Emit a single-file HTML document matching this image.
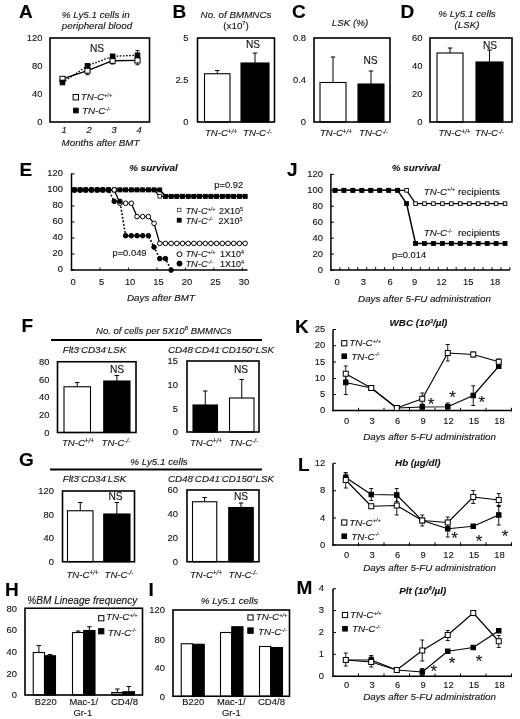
<!DOCTYPE html>
<html><head><meta charset="utf-8"><title>Figure</title>
<style>
html,body{margin:0;padding:0;background:#fff;}
svg{display:block;font-family:"Liberation Sans",Arial,sans-serif;}
</style></head><body>
<svg width="520" height="719" viewBox="0 0 520 719">
<rect x="0" y="0" width="520" height="719" fill="#fff"/>
<text x="19.00" y="17.50" font-size="19" text-anchor="start" font-weight="bold" fill="#000" stroke="#000" stroke-width="0.12">A</text>
<text x="95.70" y="18.00" font-size="9.8" text-anchor="middle" font-style="italic" fill="#111" stroke="#111" stroke-width="0.12">% Ly5.1 cells in</text>
<text x="97.00" y="28.50" font-size="9.8" text-anchor="middle" font-style="italic" fill="#111" stroke="#111" stroke-width="0.12">peripheral blood</text>
<text x="42.50" y="41.40" font-size="9.4" text-anchor="end" fill="#111" stroke="#111" stroke-width="0.12">120</text>
<text x="42.50" y="69.40" font-size="9.4" text-anchor="end" fill="#111" stroke="#111" stroke-width="0.12">80</text>
<text x="42.50" y="97.40" font-size="9.4" text-anchor="end" fill="#111" stroke="#111" stroke-width="0.12">40</text>
<text x="42.50" y="125.40" font-size="9.4" text-anchor="end" fill="#111" stroke="#111" stroke-width="0.12">0</text>
<rect x="50.00" y="38.00" width="99.50" height="84.00" fill="none" stroke="#000" stroke-width="1.6"/>
<line x1="87.50" y1="67.50" x2="87.50" y2="74.70" stroke="#000" stroke-width="0.9" stroke-linecap="butt"/>
<line x1="85.50" y1="67.50" x2="89.50" y2="67.50" stroke="#000" stroke-width="0.9" stroke-linecap="butt"/>
<line x1="85.50" y1="74.70" x2="89.50" y2="74.70" stroke="#000" stroke-width="0.9" stroke-linecap="butt"/>
<line x1="137.50" y1="56.00" x2="137.50" y2="64.80" stroke="#000" stroke-width="0.9" stroke-linecap="butt"/>
<line x1="135.50" y1="56.00" x2="139.50" y2="56.00" stroke="#000" stroke-width="0.9" stroke-linecap="butt"/>
<line x1="135.50" y1="64.80" x2="139.50" y2="64.80" stroke="#000" stroke-width="0.9" stroke-linecap="butt"/>
<line x1="137.50" y1="50.40" x2="137.50" y2="58.50" stroke="#000" stroke-width="0.9" stroke-linecap="butt"/>
<line x1="135.50" y1="50.40" x2="139.50" y2="50.40" stroke="#000" stroke-width="0.9" stroke-linecap="butt"/>
<line x1="135.50" y1="58.50" x2="139.50" y2="58.50" stroke="#000" stroke-width="0.9" stroke-linecap="butt"/>
<line x1="112.60" y1="58.50" x2="112.60" y2="64.00" stroke="#000" stroke-width="0.9" stroke-linecap="butt"/>
<line x1="110.60" y1="58.50" x2="114.60" y2="58.50" stroke="#000" stroke-width="0.9" stroke-linecap="butt"/>
<line x1="110.60" y1="64.00" x2="114.60" y2="64.00" stroke="#000" stroke-width="0.9" stroke-linecap="butt"/>
<polyline points="62.50,82.50 87.50,65.80 112.60,56.30 137.50,55.30" fill="none" stroke="#000" stroke-width="1.3" stroke-dasharray="1.6,1.6" stroke-linejoin="round"/>
<polyline points="62.50,78.90 87.50,70.60 112.60,60.70 137.50,60.40" fill="none" stroke="#000" stroke-width="1.4" stroke-linejoin="round"/>
<rect x="59.90" y="76.30" width="5.20" height="5.20" fill="#fff" stroke="#000" stroke-width="1.0"/>
<rect x="84.90" y="68.00" width="5.20" height="5.20" fill="#fff" stroke="#000" stroke-width="1.0"/>
<rect x="110.00" y="58.10" width="5.20" height="5.20" fill="#fff" stroke="#000" stroke-width="1.0"/>
<rect x="134.90" y="57.80" width="5.20" height="5.20" fill="#fff" stroke="#000" stroke-width="1.0"/>
<rect x="60.20" y="80.20" width="4.60" height="4.60" fill="#000" stroke="#000" stroke-width="1.0"/>
<rect x="85.20" y="63.50" width="4.60" height="4.60" fill="#000" stroke="#000" stroke-width="1.0"/>
<rect x="110.30" y="54.00" width="4.60" height="4.60" fill="#000" stroke="#000" stroke-width="1.0"/>
<rect x="135.20" y="53.00" width="4.60" height="4.60" fill="#000" stroke="#000" stroke-width="1.0"/>
<text x="97.00" y="51.80" font-size="10.2" text-anchor="middle" fill="#111" stroke="#111" stroke-width="0.12">NS</text>
<rect x="73.10" y="94.50" width="5.40" height="5.40" fill="#fff" stroke="#000" stroke-width="1.0"/>
<text x="80.70" y="100.20" font-size="9.8" text-anchor="start" font-style="italic" fill="#111" stroke="#111" stroke-width="0.12">TN-C<tspan dy="-3.4" font-size="5.6">+/+</tspan><tspan dy="3.4"></tspan></text>
<rect x="73.60" y="108.20" width="4.60" height="4.60" fill="#000" stroke="#000" stroke-width="1.0"/>
<text x="82.00" y="114.40" font-size="9.8" text-anchor="start" font-style="italic" fill="#111" stroke="#111" stroke-width="0.12">TN-C<tspan dy="-3.4" font-size="5.6">-/-</tspan><tspan dy="3.4"></tspan></text>
<text x="64.00" y="133.30" font-size="9.4" text-anchor="middle" font-style="italic" fill="#111" stroke="#111" stroke-width="0.12">1</text>
<text x="89.00" y="133.30" font-size="9.4" text-anchor="middle" font-style="italic" fill="#111" stroke="#111" stroke-width="0.12">2</text>
<text x="114.10" y="133.30" font-size="9.4" text-anchor="middle" font-style="italic" fill="#111" stroke="#111" stroke-width="0.12">3</text>
<text x="139.00" y="133.30" font-size="9.4" text-anchor="middle" font-style="italic" fill="#111" stroke="#111" stroke-width="0.12">4</text>
<text x="100.50" y="146.00" font-size="9.8" text-anchor="middle" font-style="italic" fill="#111" stroke="#111" stroke-width="0.12">Months after BMT</text>
<text x="172.50" y="17.50" font-size="19" text-anchor="start" font-weight="bold" fill="#000" stroke="#000" stroke-width="0.12">B</text>
<text x="236.00" y="18.00" font-size="9.8" text-anchor="middle" font-style="italic" fill="#111" stroke="#111" stroke-width="0.12">No. of BMMNCs</text>
<text x="236.00" y="28.50" font-size="9.8" text-anchor="middle" fill="#111" stroke="#111" stroke-width="0.12">(x10<tspan dy="-3.4" font-size="5.6">7</tspan><tspan dy="3.4">)</tspan></text>
<text x="188.50" y="41.40" font-size="9.4" text-anchor="end" fill="#111" stroke="#111" stroke-width="0.12">5</text>
<text x="188.50" y="83.40" font-size="9.4" text-anchor="end" fill="#111" stroke="#111" stroke-width="0.12">2.5</text>
<text x="188.50" y="125.40" font-size="9.4" text-anchor="end" fill="#111" stroke="#111" stroke-width="0.12">0</text>
<line x1="217.25" y1="70.50" x2="217.25" y2="73.75" stroke="#000" stroke-width="1.0" stroke-linecap="butt"/>
<line x1="215.00" y1="70.50" x2="219.50" y2="70.50" stroke="#000" stroke-width="1.0" stroke-linecap="butt"/>
<rect x="204.50" y="73.75" width="25.50" height="48.25" fill="#fff" stroke="#000" stroke-width="1.1"/>
<line x1="255.00" y1="53.00" x2="255.00" y2="63.00" stroke="#000" stroke-width="1.0" stroke-linecap="butt"/>
<line x1="252.75" y1="53.00" x2="257.25" y2="53.00" stroke="#000" stroke-width="1.0" stroke-linecap="butt"/>
<rect x="241.00" y="63.00" width="28.00" height="59.00" fill="#000" stroke="#000" stroke-width="1.1"/>
<rect x="197.50" y="38.00" width="77.00" height="84.00" fill="none" stroke="#000" stroke-width="1.6"/>
<text x="253.00" y="47.50" font-size="10.2" text-anchor="middle" fill="#111" stroke="#111" stroke-width="0.12">NS</text>
<text x="221.00" y="136.20" font-size="9.6" text-anchor="middle" font-style="italic" fill="#111" stroke="#111" stroke-width="0.12">TN-C<tspan dy="-2.6" font-size="6.4">+/+</tspan><tspan dy="2.6"></tspan></text>
<text x="257.50" y="136.20" font-size="9.6" text-anchor="middle" font-style="italic" fill="#111" stroke="#111" stroke-width="0.12">TN-C<tspan dy="-2.6" font-size="6.4">-/-</tspan><tspan dy="2.6"></tspan></text>
<text x="292.00" y="17.50" font-size="19" text-anchor="start" font-weight="bold" fill="#000" stroke="#000" stroke-width="0.12">C</text>
<text x="350.00" y="25.50" font-size="9.8" text-anchor="middle" font-style="italic" fill="#111" stroke="#111" stroke-width="0.12">LSK (%)</text>
<text x="306.00" y="41.40" font-size="9.4" text-anchor="end" fill="#111" stroke="#111" stroke-width="0.12">0.8</text>
<text x="306.00" y="83.40" font-size="9.4" text-anchor="end" fill="#111" stroke="#111" stroke-width="0.12">0.4</text>
<text x="306.00" y="125.40" font-size="9.4" text-anchor="end" fill="#111" stroke="#111" stroke-width="0.12">0</text>
<line x1="333.00" y1="57.00" x2="333.00" y2="82.50" stroke="#000" stroke-width="1.0" stroke-linecap="butt"/>
<line x1="330.75" y1="57.00" x2="335.25" y2="57.00" stroke="#000" stroke-width="1.0" stroke-linecap="butt"/>
<rect x="320.00" y="82.50" width="26.00" height="39.50" fill="#fff" stroke="#000" stroke-width="1.1"/>
<line x1="371.00" y1="71.00" x2="371.00" y2="84.00" stroke="#000" stroke-width="1.0" stroke-linecap="butt"/>
<line x1="368.75" y1="71.00" x2="373.25" y2="71.00" stroke="#000" stroke-width="1.0" stroke-linecap="butt"/>
<rect x="358.00" y="84.00" width="26.00" height="38.00" fill="#000" stroke="#000" stroke-width="1.1"/>
<rect x="314.00" y="38.00" width="76.00" height="84.00" fill="none" stroke="#000" stroke-width="1.6"/>
<text x="370.50" y="63.50" font-size="10.2" text-anchor="middle" fill="#111" stroke="#111" stroke-width="0.12">NS</text>
<text x="336.00" y="136.20" font-size="9.6" text-anchor="middle" font-style="italic" fill="#111" stroke="#111" stroke-width="0.12">TN-C<tspan dy="-2.6" font-size="6.4">+/+</tspan><tspan dy="2.6"></tspan></text>
<text x="373.50" y="136.20" font-size="9.6" text-anchor="middle" font-style="italic" fill="#111" stroke="#111" stroke-width="0.12">TN-C<tspan dy="-2.6" font-size="6.4">-/-</tspan><tspan dy="2.6"></tspan></text>
<text x="400.50" y="17.50" font-size="19" text-anchor="start" font-weight="bold" fill="#000" stroke="#000" stroke-width="0.12">D</text>
<text x="467.00" y="17.00" font-size="9.8" text-anchor="middle" font-style="italic" fill="#111" stroke="#111" stroke-width="0.12">% Ly5.1 cells</text>
<text x="467.00" y="27.50" font-size="9.8" text-anchor="middle" font-style="italic" fill="#111" stroke="#111" stroke-width="0.12">(LSK)</text>
<text x="422.50" y="41.40" font-size="9.4" text-anchor="end" fill="#111" stroke="#111" stroke-width="0.12">60</text>
<text x="422.50" y="69.40" font-size="9.4" text-anchor="end" fill="#111" stroke="#111" stroke-width="0.12">40</text>
<text x="422.50" y="97.40" font-size="9.4" text-anchor="end" fill="#111" stroke="#111" stroke-width="0.12">20</text>
<text x="422.50" y="125.40" font-size="9.4" text-anchor="end" fill="#111" stroke="#111" stroke-width="0.12">0</text>
<line x1="450.00" y1="48.00" x2="450.00" y2="53.00" stroke="#000" stroke-width="1.0" stroke-linecap="butt"/>
<line x1="447.75" y1="48.00" x2="452.25" y2="48.00" stroke="#000" stroke-width="1.0" stroke-linecap="butt"/>
<rect x="437.00" y="53.00" width="26.00" height="69.00" fill="#fff" stroke="#000" stroke-width="1.1"/>
<line x1="489.50" y1="50.00" x2="489.50" y2="62.00" stroke="#000" stroke-width="1.0" stroke-linecap="butt"/>
<line x1="487.25" y1="50.00" x2="491.75" y2="50.00" stroke="#000" stroke-width="1.0" stroke-linecap="butt"/>
<rect x="476.00" y="62.00" width="27.00" height="60.00" fill="#000" stroke="#000" stroke-width="1.1"/>
<rect x="430.00" y="38.00" width="82.00" height="84.00" fill="none" stroke="#000" stroke-width="1.6"/>
<text x="490.00" y="48.50" font-size="10.2" text-anchor="middle" fill="#111" stroke="#111" stroke-width="0.12">NS</text>
<text x="454.50" y="136.20" font-size="9.6" text-anchor="middle" font-style="italic" fill="#111" stroke="#111" stroke-width="0.12">TN-C<tspan dy="-2.6" font-size="6.4">+/+</tspan><tspan dy="2.6"></tspan></text>
<text x="489.50" y="136.20" font-size="9.6" text-anchor="middle" font-style="italic" fill="#111" stroke="#111" stroke-width="0.12">TN-C<tspan dy="-2.6" font-size="6.4">-/-</tspan><tspan dy="2.6"></tspan></text>
<text x="19.50" y="175.50" font-size="19" text-anchor="start" font-weight="bold" fill="#000" stroke="#000" stroke-width="0.12">E</text>
<text x="153.50" y="171.00" font-size="9.8" text-anchor="middle" font-style="italic" font-weight="bold" fill="#111" stroke="#111" stroke-width="0.12">% survival</text>
<text x="63.00" y="272.30" font-size="9.4" text-anchor="end" fill="#111" stroke="#111" stroke-width="0.12">0</text>
<text x="63.00" y="256.26" font-size="9.4" text-anchor="end" fill="#111" stroke="#111" stroke-width="0.12">20</text>
<text x="63.00" y="240.22" font-size="9.4" text-anchor="end" fill="#111" stroke="#111" stroke-width="0.12">40</text>
<text x="63.00" y="224.18" font-size="9.4" text-anchor="end" fill="#111" stroke="#111" stroke-width="0.12">60</text>
<text x="63.00" y="208.14" font-size="9.4" text-anchor="end" fill="#111" stroke="#111" stroke-width="0.12">80</text>
<text x="63.00" y="192.10" font-size="9.4" text-anchor="end" fill="#111" stroke="#111" stroke-width="0.12">100</text>
<text x="63.00" y="176.06" font-size="9.4" text-anchor="end" fill="#111" stroke="#111" stroke-width="0.12">120</text>
<line x1="71.50" y1="173.30" x2="71.50" y2="270.85" stroke="#000" stroke-width="1.5" stroke-linecap="butt"/>
<line x1="70.75" y1="270.10" x2="247.50" y2="270.10" stroke="#000" stroke-width="1.5" stroke-linecap="butt"/>
<line x1="71.50" y1="270.10" x2="74.50" y2="270.10" stroke="#000" stroke-width="1.0" stroke-linecap="butt"/>
<line x1="71.50" y1="254.06" x2="74.50" y2="254.06" stroke="#000" stroke-width="1.0" stroke-linecap="butt"/>
<line x1="71.50" y1="238.02" x2="74.50" y2="238.02" stroke="#000" stroke-width="1.0" stroke-linecap="butt"/>
<line x1="71.50" y1="221.98" x2="74.50" y2="221.98" stroke="#000" stroke-width="1.0" stroke-linecap="butt"/>
<line x1="71.50" y1="205.94" x2="74.50" y2="205.94" stroke="#000" stroke-width="1.0" stroke-linecap="butt"/>
<line x1="71.50" y1="189.90" x2="74.50" y2="189.90" stroke="#000" stroke-width="1.0" stroke-linecap="butt"/>
<line x1="71.50" y1="173.86" x2="74.50" y2="173.86" stroke="#000" stroke-width="1.0" stroke-linecap="butt"/>
<text x="73.20" y="285.00" font-size="9.4" text-anchor="middle" fill="#111" stroke="#111" stroke-width="0.12">0</text>
<text x="101.65" y="285.00" font-size="9.4" text-anchor="middle" fill="#111" stroke="#111" stroke-width="0.12">5</text>
<text x="130.10" y="285.00" font-size="9.4" text-anchor="middle" fill="#111" stroke="#111" stroke-width="0.12">10</text>
<text x="158.55" y="285.00" font-size="9.4" text-anchor="middle" fill="#111" stroke="#111" stroke-width="0.12">15</text>
<text x="187.00" y="285.00" font-size="9.4" text-anchor="middle" fill="#111" stroke="#111" stroke-width="0.12">20</text>
<text x="215.45" y="285.00" font-size="9.4" text-anchor="middle" fill="#111" stroke="#111" stroke-width="0.12">25</text>
<text x="243.90" y="285.00" font-size="9.4" text-anchor="middle" fill="#111" stroke="#111" stroke-width="0.12">30</text>
<line x1="100.05" y1="267.60" x2="100.05" y2="270.10" stroke="#000" stroke-width="0.9" stroke-linecap="butt"/>
<line x1="128.50" y1="267.60" x2="128.50" y2="270.10" stroke="#000" stroke-width="0.9" stroke-linecap="butt"/>
<line x1="156.95" y1="267.60" x2="156.95" y2="270.10" stroke="#000" stroke-width="0.9" stroke-linecap="butt"/>
<line x1="185.40" y1="267.60" x2="185.40" y2="270.10" stroke="#000" stroke-width="0.9" stroke-linecap="butt"/>
<line x1="213.85" y1="267.60" x2="213.85" y2="270.10" stroke="#000" stroke-width="0.9" stroke-linecap="butt"/>
<line x1="242.30" y1="267.60" x2="242.30" y2="270.10" stroke="#000" stroke-width="0.9" stroke-linecap="butt"/>
<text x="161.00" y="301.00" font-size="9.8" text-anchor="middle" font-style="italic" fill="#111" stroke="#111" stroke-width="0.12">Days after BMT</text>
<polyline points="74.40,189.90 80.09,189.90 85.78,189.90 91.47,189.90 97.16,189.90 102.85,189.90 108.54,189.90 114.23,189.90 119.92,189.90 125.61,189.90 131.30,189.90 136.99,189.90 142.68,189.90 148.37,189.90 154.06,189.90 159.75,196.32 165.44,196.32 171.13,196.32 176.82,196.32 182.51,196.32 188.20,196.32 193.89,196.32 199.58,196.32 205.27,196.32 210.96,196.32 216.65,196.32 222.34,196.32 228.03,196.32 233.72,196.32 239.41,196.32 245.10,196.32" fill="none" stroke="#000" stroke-width="1.2" stroke-linejoin="round"/>
<rect x="72.60" y="188.10" width="3.60" height="3.60" fill="#fff" stroke="#000" stroke-width="0.8"/>
<rect x="78.29" y="188.10" width="3.60" height="3.60" fill="#fff" stroke="#000" stroke-width="0.8"/>
<rect x="83.98" y="188.10" width="3.60" height="3.60" fill="#fff" stroke="#000" stroke-width="0.8"/>
<rect x="89.67" y="188.10" width="3.60" height="3.60" fill="#fff" stroke="#000" stroke-width="0.8"/>
<rect x="95.36" y="188.10" width="3.60" height="3.60" fill="#fff" stroke="#000" stroke-width="0.8"/>
<rect x="101.05" y="188.10" width="3.60" height="3.60" fill="#fff" stroke="#000" stroke-width="0.8"/>
<rect x="106.74" y="188.10" width="3.60" height="3.60" fill="#fff" stroke="#000" stroke-width="0.8"/>
<rect x="112.43" y="188.10" width="3.60" height="3.60" fill="#fff" stroke="#000" stroke-width="0.8"/>
<rect x="118.12" y="188.10" width="3.60" height="3.60" fill="#fff" stroke="#000" stroke-width="0.8"/>
<rect x="123.81" y="188.10" width="3.60" height="3.60" fill="#fff" stroke="#000" stroke-width="0.8"/>
<rect x="129.50" y="188.10" width="3.60" height="3.60" fill="#fff" stroke="#000" stroke-width="0.8"/>
<rect x="135.19" y="188.10" width="3.60" height="3.60" fill="#fff" stroke="#000" stroke-width="0.8"/>
<rect x="140.88" y="188.10" width="3.60" height="3.60" fill="#fff" stroke="#000" stroke-width="0.8"/>
<rect x="146.57" y="188.10" width="3.60" height="3.60" fill="#fff" stroke="#000" stroke-width="0.8"/>
<rect x="152.26" y="188.10" width="3.60" height="3.60" fill="#fff" stroke="#000" stroke-width="0.8"/>
<rect x="157.95" y="194.52" width="3.60" height="3.60" fill="#fff" stroke="#000" stroke-width="0.8"/>
<rect x="163.64" y="194.52" width="3.60" height="3.60" fill="#fff" stroke="#000" stroke-width="0.8"/>
<rect x="169.33" y="194.52" width="3.60" height="3.60" fill="#fff" stroke="#000" stroke-width="0.8"/>
<rect x="175.02" y="194.52" width="3.60" height="3.60" fill="#fff" stroke="#000" stroke-width="0.8"/>
<rect x="180.71" y="194.52" width="3.60" height="3.60" fill="#fff" stroke="#000" stroke-width="0.8"/>
<rect x="186.40" y="194.52" width="3.60" height="3.60" fill="#fff" stroke="#000" stroke-width="0.8"/>
<rect x="192.09" y="194.52" width="3.60" height="3.60" fill="#fff" stroke="#000" stroke-width="0.8"/>
<rect x="197.78" y="194.52" width="3.60" height="3.60" fill="#fff" stroke="#000" stroke-width="0.8"/>
<rect x="203.47" y="194.52" width="3.60" height="3.60" fill="#fff" stroke="#000" stroke-width="0.8"/>
<rect x="209.16" y="194.52" width="3.60" height="3.60" fill="#fff" stroke="#000" stroke-width="0.8"/>
<rect x="214.85" y="194.52" width="3.60" height="3.60" fill="#fff" stroke="#000" stroke-width="0.8"/>
<rect x="220.54" y="194.52" width="3.60" height="3.60" fill="#fff" stroke="#000" stroke-width="0.8"/>
<rect x="226.23" y="194.52" width="3.60" height="3.60" fill="#fff" stroke="#000" stroke-width="0.8"/>
<rect x="231.92" y="194.52" width="3.60" height="3.60" fill="#fff" stroke="#000" stroke-width="0.8"/>
<rect x="237.61" y="194.52" width="3.60" height="3.60" fill="#fff" stroke="#000" stroke-width="0.8"/>
<rect x="243.30" y="194.52" width="3.60" height="3.60" fill="#fff" stroke="#000" stroke-width="0.8"/>
<polyline points="74.40,189.90 80.09,189.90 85.78,189.90 91.47,189.90 97.16,189.90 102.85,189.90 108.54,189.90 114.23,189.90 119.92,189.90 125.61,189.90 131.30,189.90 136.99,189.90 142.68,189.90 148.37,189.90 154.06,189.90 159.75,189.90 165.44,196.32 171.13,196.32 176.82,196.32 182.51,196.32 188.20,196.32 193.89,196.32 199.58,196.32 205.27,196.32 210.96,196.32 216.65,196.32 222.34,196.32 228.03,196.32 233.72,196.32 239.41,196.32 245.10,196.32" fill="none" stroke="#000" stroke-width="1.6" stroke-linejoin="round"/>
<rect x="72.40" y="187.90" width="4.00" height="4.00" fill="#000" stroke="#000" stroke-width="0.8"/>
<rect x="78.09" y="187.90" width="4.00" height="4.00" fill="#000" stroke="#000" stroke-width="0.8"/>
<rect x="83.78" y="187.90" width="4.00" height="4.00" fill="#000" stroke="#000" stroke-width="0.8"/>
<rect x="89.47" y="187.90" width="4.00" height="4.00" fill="#000" stroke="#000" stroke-width="0.8"/>
<rect x="95.16" y="187.90" width="4.00" height="4.00" fill="#000" stroke="#000" stroke-width="0.8"/>
<rect x="100.85" y="187.90" width="4.00" height="4.00" fill="#000" stroke="#000" stroke-width="0.8"/>
<rect x="106.54" y="187.90" width="4.00" height="4.00" fill="#000" stroke="#000" stroke-width="0.8"/>
<rect x="112.23" y="187.90" width="4.00" height="4.00" fill="#000" stroke="#000" stroke-width="0.8"/>
<rect x="117.92" y="187.90" width="4.00" height="4.00" fill="#000" stroke="#000" stroke-width="0.8"/>
<rect x="123.61" y="187.90" width="4.00" height="4.00" fill="#000" stroke="#000" stroke-width="0.8"/>
<rect x="129.30" y="187.90" width="4.00" height="4.00" fill="#000" stroke="#000" stroke-width="0.8"/>
<rect x="134.99" y="187.90" width="4.00" height="4.00" fill="#000" stroke="#000" stroke-width="0.8"/>
<rect x="140.68" y="187.90" width="4.00" height="4.00" fill="#000" stroke="#000" stroke-width="0.8"/>
<rect x="146.37" y="187.90" width="4.00" height="4.00" fill="#000" stroke="#000" stroke-width="0.8"/>
<rect x="152.06" y="187.90" width="4.00" height="4.00" fill="#000" stroke="#000" stroke-width="0.8"/>
<rect x="157.75" y="187.90" width="4.00" height="4.00" fill="#000" stroke="#000" stroke-width="0.8"/>
<rect x="163.44" y="194.32" width="4.00" height="4.00" fill="#000" stroke="#000" stroke-width="0.8"/>
<rect x="169.13" y="194.32" width="4.00" height="4.00" fill="#000" stroke="#000" stroke-width="0.8"/>
<rect x="174.82" y="194.32" width="4.00" height="4.00" fill="#000" stroke="#000" stroke-width="0.8"/>
<rect x="180.51" y="194.32" width="4.00" height="4.00" fill="#000" stroke="#000" stroke-width="0.8"/>
<rect x="186.20" y="194.32" width="4.00" height="4.00" fill="#000" stroke="#000" stroke-width="0.8"/>
<rect x="191.89" y="194.32" width="4.00" height="4.00" fill="#000" stroke="#000" stroke-width="0.8"/>
<rect x="197.58" y="194.32" width="4.00" height="4.00" fill="#000" stroke="#000" stroke-width="0.8"/>
<rect x="203.27" y="194.32" width="4.00" height="4.00" fill="#000" stroke="#000" stroke-width="0.8"/>
<rect x="208.96" y="194.32" width="4.00" height="4.00" fill="#000" stroke="#000" stroke-width="0.8"/>
<rect x="214.65" y="194.32" width="4.00" height="4.00" fill="#000" stroke="#000" stroke-width="0.8"/>
<rect x="220.34" y="194.32" width="4.00" height="4.00" fill="#000" stroke="#000" stroke-width="0.8"/>
<rect x="226.03" y="194.32" width="4.00" height="4.00" fill="#000" stroke="#000" stroke-width="0.8"/>
<rect x="231.72" y="194.32" width="4.00" height="4.00" fill="#000" stroke="#000" stroke-width="0.8"/>
<rect x="237.41" y="194.32" width="4.00" height="4.00" fill="#000" stroke="#000" stroke-width="0.8"/>
<rect x="243.10" y="194.32" width="4.00" height="4.00" fill="#000" stroke="#000" stroke-width="0.8"/>
<polyline points="74.40,189.90 80.09,189.90 85.78,189.90 91.47,189.90 97.16,189.90 102.85,189.90 108.54,189.90 114.23,189.90 119.92,203.29 125.61,203.29 131.30,203.29 136.99,216.61 142.68,216.61 148.37,216.61 154.06,223.34 159.75,243.39 165.44,243.39 171.13,243.39 176.82,243.39 182.51,243.39 188.20,243.39 193.89,243.39 199.58,243.39 205.27,243.39 210.96,243.39 216.65,243.39 222.34,243.39 228.03,243.39 233.72,243.39 239.41,243.39 245.10,243.39" fill="none" stroke="#000" stroke-width="1.3" stroke-linejoin="round"/>
<polyline points="74.40,189.90 80.09,189.90 85.78,189.90 91.47,189.90 97.16,189.90 102.85,189.90 108.54,189.90 114.23,201.37 119.92,201.37 125.61,235.69 131.30,235.69 136.99,235.69 142.68,235.69 148.37,235.69 154.06,247.16 159.75,258.63 165.44,258.63 171.13,270.10" fill="none" stroke="#000" stroke-width="1.6" stroke-dasharray="1.8,1.8" stroke-linejoin="round"/>
<circle cx="74.40" cy="189.90" r="2.3" fill="#fff" stroke="#000" stroke-width="1.0"/>
<circle cx="80.09" cy="189.90" r="2.3" fill="#fff" stroke="#000" stroke-width="1.0"/>
<circle cx="85.78" cy="189.90" r="2.3" fill="#fff" stroke="#000" stroke-width="1.0"/>
<circle cx="91.47" cy="189.90" r="2.3" fill="#fff" stroke="#000" stroke-width="1.0"/>
<circle cx="97.16" cy="189.90" r="2.3" fill="#fff" stroke="#000" stroke-width="1.0"/>
<circle cx="102.85" cy="189.90" r="2.3" fill="#fff" stroke="#000" stroke-width="1.0"/>
<circle cx="108.54" cy="189.90" r="2.3" fill="#fff" stroke="#000" stroke-width="1.0"/>
<circle cx="114.23" cy="189.90" r="2.3" fill="#fff" stroke="#000" stroke-width="1.0"/>
<circle cx="119.92" cy="203.29" r="2.3" fill="#fff" stroke="#000" stroke-width="1.0"/>
<circle cx="125.61" cy="203.29" r="2.3" fill="#fff" stroke="#000" stroke-width="1.0"/>
<circle cx="131.30" cy="203.29" r="2.3" fill="#fff" stroke="#000" stroke-width="1.0"/>
<circle cx="136.99" cy="216.61" r="2.3" fill="#fff" stroke="#000" stroke-width="1.0"/>
<circle cx="142.68" cy="216.61" r="2.3" fill="#fff" stroke="#000" stroke-width="1.0"/>
<circle cx="148.37" cy="216.61" r="2.3" fill="#fff" stroke="#000" stroke-width="1.0"/>
<circle cx="154.06" cy="223.34" r="2.3" fill="#fff" stroke="#000" stroke-width="1.0"/>
<circle cx="159.75" cy="243.39" r="2.3" fill="#fff" stroke="#000" stroke-width="1.0"/>
<circle cx="165.44" cy="243.39" r="2.3" fill="#fff" stroke="#000" stroke-width="1.0"/>
<circle cx="171.13" cy="243.39" r="2.3" fill="#fff" stroke="#000" stroke-width="1.0"/>
<circle cx="176.82" cy="243.39" r="2.3" fill="#fff" stroke="#000" stroke-width="1.0"/>
<circle cx="182.51" cy="243.39" r="2.3" fill="#fff" stroke="#000" stroke-width="1.0"/>
<circle cx="188.20" cy="243.39" r="2.3" fill="#fff" stroke="#000" stroke-width="1.0"/>
<circle cx="193.89" cy="243.39" r="2.3" fill="#fff" stroke="#000" stroke-width="1.0"/>
<circle cx="199.58" cy="243.39" r="2.3" fill="#fff" stroke="#000" stroke-width="1.0"/>
<circle cx="205.27" cy="243.39" r="2.3" fill="#fff" stroke="#000" stroke-width="1.0"/>
<circle cx="210.96" cy="243.39" r="2.3" fill="#fff" stroke="#000" stroke-width="1.0"/>
<circle cx="216.65" cy="243.39" r="2.3" fill="#fff" stroke="#000" stroke-width="1.0"/>
<circle cx="222.34" cy="243.39" r="2.3" fill="#fff" stroke="#000" stroke-width="1.0"/>
<circle cx="228.03" cy="243.39" r="2.3" fill="#fff" stroke="#000" stroke-width="1.0"/>
<circle cx="233.72" cy="243.39" r="2.3" fill="#fff" stroke="#000" stroke-width="1.0"/>
<circle cx="239.41" cy="243.39" r="2.3" fill="#fff" stroke="#000" stroke-width="1.0"/>
<circle cx="245.10" cy="243.39" r="2.3" fill="#fff" stroke="#000" stroke-width="1.0"/>
<circle cx="74.40" cy="189.90" r="2.3" fill="#000" stroke="#000" stroke-width="1.0"/>
<circle cx="80.09" cy="189.90" r="2.3" fill="#000" stroke="#000" stroke-width="1.0"/>
<circle cx="85.78" cy="189.90" r="2.3" fill="#000" stroke="#000" stroke-width="1.0"/>
<circle cx="91.47" cy="189.90" r="2.3" fill="#000" stroke="#000" stroke-width="1.0"/>
<circle cx="97.16" cy="189.90" r="2.3" fill="#000" stroke="#000" stroke-width="1.0"/>
<circle cx="102.85" cy="189.90" r="2.3" fill="#000" stroke="#000" stroke-width="1.0"/>
<circle cx="108.54" cy="189.90" r="2.3" fill="#000" stroke="#000" stroke-width="1.0"/>
<circle cx="114.23" cy="201.37" r="2.3" fill="#000" stroke="#000" stroke-width="1.0"/>
<circle cx="119.92" cy="201.37" r="2.3" fill="#000" stroke="#000" stroke-width="1.0"/>
<circle cx="125.61" cy="235.69" r="2.3" fill="#000" stroke="#000" stroke-width="1.0"/>
<circle cx="131.30" cy="235.69" r="2.3" fill="#000" stroke="#000" stroke-width="1.0"/>
<circle cx="136.99" cy="235.69" r="2.3" fill="#000" stroke="#000" stroke-width="1.0"/>
<circle cx="142.68" cy="235.69" r="2.3" fill="#000" stroke="#000" stroke-width="1.0"/>
<circle cx="148.37" cy="235.69" r="2.3" fill="#000" stroke="#000" stroke-width="1.0"/>
<circle cx="154.06" cy="247.16" r="2.3" fill="#000" stroke="#000" stroke-width="1.0"/>
<circle cx="159.75" cy="258.63" r="2.3" fill="#000" stroke="#000" stroke-width="1.0"/>
<circle cx="165.44" cy="258.63" r="2.3" fill="#000" stroke="#000" stroke-width="1.0"/>
<circle cx="171.13" cy="270.10" r="2.3" fill="#000" stroke="#000" stroke-width="1.0"/>
<text x="228.80" y="187.50" font-size="9.4" text-anchor="middle" fill="#111" stroke="#111" stroke-width="0.12">p=0.92</text>
<text x="129.50" y="255.50" font-size="9.4" text-anchor="middle" fill="#111" stroke="#111" stroke-width="0.12">p=0.049</text>
<rect x="177.40" y="208.20" width="3.60" height="3.60" fill="#fff" stroke="#000" stroke-width="0.6"/>
<text x="185.40" y="213.60" font-size="9.3" text-anchor="start" font-style="italic" fill="#111" stroke="#111" stroke-width="0.12">TN-C<tspan dy="-2.9" font-size="5.4">+/+</tspan><tspan dy="2.9"></tspan></text>
<text x="219.00" y="213.60" font-size="9.0" text-anchor="start" fill="#111" stroke="#111" stroke-width="0.12">2X10<tspan dy="-2.9" font-size="5.4">5</tspan><tspan dy="2.9"></tspan></text>
<rect x="177.30" y="218.30" width="3.80" height="3.80" fill="#000" stroke="#000" stroke-width="1.0"/>
<text x="185.40" y="224.20" font-size="9.3" text-anchor="start" font-style="italic" fill="#111" stroke="#111" stroke-width="0.12">TN-C<tspan dy="-2.9" font-size="5.4">-/-</tspan><tspan dy="2.9"></tspan></text>
<text x="218.50" y="224.20" font-size="9.0" text-anchor="start" fill="#111" stroke="#111" stroke-width="0.12">2X10<tspan dy="-2.9" font-size="5.4">5</tspan><tspan dy="2.9"></tspan></text>
<circle cx="179.50" cy="254.20" r="2.5" fill="#fff" stroke="#000" stroke-width="1.0"/>
<text x="185.40" y="257.00" font-size="9.3" text-anchor="start" font-style="italic" fill="#111" stroke="#111" stroke-width="0.12">TN-C<tspan dy="-2.9" font-size="5.4">+/+</tspan><tspan dy="2.9"></tspan></text>
<text x="220.00" y="257.00" font-size="9.0" text-anchor="start" fill="#111" stroke="#111" stroke-width="0.12">1X10<tspan dy="-2.9" font-size="5.4">4</tspan><tspan dy="2.9"></tspan></text>
<circle cx="179.50" cy="263.60" r="2.5" fill="#000" stroke="#000" stroke-width="1.0"/>
<text x="185.40" y="267.00" font-size="9.3" text-anchor="start" font-style="italic" fill="#111" stroke="#111" stroke-width="0.12">TN-C<tspan dy="-2.9" font-size="5.4">-/-</tspan><tspan dy="2.9"></tspan></text>
<text x="220.00" y="267.00" font-size="9.0" text-anchor="start" fill="#111" stroke="#111" stroke-width="0.12">1X10<tspan dy="-2.9" font-size="5.4">4</tspan><tspan dy="2.9"></tspan></text>
<text x="287.00" y="175.50" font-size="19" text-anchor="start" font-weight="bold" fill="#000" stroke="#000" stroke-width="0.12">J</text>
<text x="416.00" y="171.00" font-size="9.8" text-anchor="middle" font-style="italic" font-weight="bold" fill="#111" stroke="#111" stroke-width="0.12">% survival</text>
<text x="323.00" y="272.50" font-size="9.4" text-anchor="end" fill="#111" stroke="#111" stroke-width="0.12">0</text>
<text x="323.00" y="256.56" font-size="9.4" text-anchor="end" fill="#111" stroke="#111" stroke-width="0.12">20</text>
<text x="323.00" y="240.62" font-size="9.4" text-anchor="end" fill="#111" stroke="#111" stroke-width="0.12">40</text>
<text x="323.00" y="224.68" font-size="9.4" text-anchor="end" fill="#111" stroke="#111" stroke-width="0.12">60</text>
<text x="323.00" y="208.74" font-size="9.4" text-anchor="end" fill="#111" stroke="#111" stroke-width="0.12">80</text>
<text x="323.00" y="192.80" font-size="9.4" text-anchor="end" fill="#111" stroke="#111" stroke-width="0.12">100</text>
<text x="323.00" y="176.86" font-size="9.4" text-anchor="end" fill="#111" stroke="#111" stroke-width="0.12">120</text>
<line x1="330.90" y1="173.70" x2="330.90" y2="270.75" stroke="#000" stroke-width="1.5" stroke-linecap="butt"/>
<line x1="330.15" y1="270.00" x2="510.00" y2="270.00" stroke="#000" stroke-width="1.5" stroke-linecap="butt"/>
<line x1="330.90" y1="270.00" x2="333.90" y2="270.00" stroke="#000" stroke-width="1.0" stroke-linecap="butt"/>
<line x1="330.90" y1="254.06" x2="333.90" y2="254.06" stroke="#000" stroke-width="1.0" stroke-linecap="butt"/>
<line x1="330.90" y1="238.12" x2="333.90" y2="238.12" stroke="#000" stroke-width="1.0" stroke-linecap="butt"/>
<line x1="330.90" y1="222.18" x2="333.90" y2="222.18" stroke="#000" stroke-width="1.0" stroke-linecap="butt"/>
<line x1="330.90" y1="206.24" x2="333.90" y2="206.24" stroke="#000" stroke-width="1.0" stroke-linecap="butt"/>
<line x1="330.90" y1="190.30" x2="333.90" y2="190.30" stroke="#000" stroke-width="1.0" stroke-linecap="butt"/>
<line x1="330.90" y1="174.36" x2="333.90" y2="174.36" stroke="#000" stroke-width="1.0" stroke-linecap="butt"/>
<line x1="339.85" y1="267.20" x2="339.85" y2="270.00" stroke="#000" stroke-width="1.0" stroke-linecap="butt"/>
<line x1="348.80" y1="267.20" x2="348.80" y2="270.00" stroke="#000" stroke-width="1.0" stroke-linecap="butt"/>
<line x1="357.75" y1="267.20" x2="357.75" y2="270.00" stroke="#000" stroke-width="1.0" stroke-linecap="butt"/>
<line x1="366.70" y1="267.20" x2="366.70" y2="270.00" stroke="#000" stroke-width="1.0" stroke-linecap="butt"/>
<line x1="375.65" y1="267.20" x2="375.65" y2="270.00" stroke="#000" stroke-width="1.0" stroke-linecap="butt"/>
<line x1="384.60" y1="267.20" x2="384.60" y2="270.00" stroke="#000" stroke-width="1.0" stroke-linecap="butt"/>
<line x1="393.55" y1="267.20" x2="393.55" y2="270.00" stroke="#000" stroke-width="1.0" stroke-linecap="butt"/>
<line x1="402.50" y1="267.20" x2="402.50" y2="270.00" stroke="#000" stroke-width="1.0" stroke-linecap="butt"/>
<line x1="411.45" y1="267.20" x2="411.45" y2="270.00" stroke="#000" stroke-width="1.0" stroke-linecap="butt"/>
<line x1="420.40" y1="267.20" x2="420.40" y2="270.00" stroke="#000" stroke-width="1.0" stroke-linecap="butt"/>
<line x1="429.35" y1="267.20" x2="429.35" y2="270.00" stroke="#000" stroke-width="1.0" stroke-linecap="butt"/>
<line x1="438.30" y1="267.20" x2="438.30" y2="270.00" stroke="#000" stroke-width="1.0" stroke-linecap="butt"/>
<line x1="447.25" y1="267.20" x2="447.25" y2="270.00" stroke="#000" stroke-width="1.0" stroke-linecap="butt"/>
<line x1="456.20" y1="267.20" x2="456.20" y2="270.00" stroke="#000" stroke-width="1.0" stroke-linecap="butt"/>
<line x1="465.15" y1="267.20" x2="465.15" y2="270.00" stroke="#000" stroke-width="1.0" stroke-linecap="butt"/>
<line x1="474.10" y1="267.20" x2="474.10" y2="270.00" stroke="#000" stroke-width="1.0" stroke-linecap="butt"/>
<line x1="483.05" y1="267.20" x2="483.05" y2="270.00" stroke="#000" stroke-width="1.0" stroke-linecap="butt"/>
<line x1="492.00" y1="267.20" x2="492.00" y2="270.00" stroke="#000" stroke-width="1.0" stroke-linecap="butt"/>
<line x1="500.95" y1="267.20" x2="500.95" y2="270.00" stroke="#000" stroke-width="1.0" stroke-linecap="butt"/>
<line x1="509.90" y1="267.20" x2="509.90" y2="270.00" stroke="#000" stroke-width="1.0" stroke-linecap="butt"/>
<text x="337.00" y="285.00" font-size="9.4" text-anchor="middle" fill="#111" stroke="#111" stroke-width="0.12">0</text>
<text x="363.35" y="285.00" font-size="9.4" text-anchor="middle" fill="#111" stroke="#111" stroke-width="0.12">3</text>
<text x="390.20" y="285.00" font-size="9.4" text-anchor="middle" fill="#111" stroke="#111" stroke-width="0.12">6</text>
<text x="414.55" y="285.00" font-size="9.4" text-anchor="middle" fill="#111" stroke="#111" stroke-width="0.12">9</text>
<text x="441.40" y="285.00" font-size="9.4" text-anchor="middle" fill="#111" stroke="#111" stroke-width="0.12">12</text>
<text x="468.25" y="285.00" font-size="9.4" text-anchor="middle" fill="#111" stroke="#111" stroke-width="0.12">15</text>
<text x="495.10" y="285.00" font-size="9.4" text-anchor="middle" fill="#111" stroke="#111" stroke-width="0.12">18</text>
<text x="424.50" y="302.00" font-size="9.8" text-anchor="middle" font-style="italic" fill="#111" stroke="#111" stroke-width="0.12">Days after 5-FU administration</text>
<polyline points="335.00,190.30 343.95,190.30 352.90,190.30 361.85,190.30 370.80,190.30 379.75,190.30 388.70,190.30 397.65,190.30 406.60,190.30 415.55,203.61 424.50,203.61 433.45,203.61 442.40,203.61 451.35,203.61 460.30,203.61 469.25,203.61 478.20,203.61 487.15,203.61 496.10,203.61 505.05,203.61" fill="none" stroke="#000" stroke-width="1.3" stroke-linejoin="round"/>
<rect x="333.20" y="188.50" width="3.60" height="3.60" fill="#fff" stroke="#000" stroke-width="0.9"/>
<rect x="342.15" y="188.50" width="3.60" height="3.60" fill="#fff" stroke="#000" stroke-width="0.9"/>
<rect x="351.10" y="188.50" width="3.60" height="3.60" fill="#fff" stroke="#000" stroke-width="0.9"/>
<rect x="360.05" y="188.50" width="3.60" height="3.60" fill="#fff" stroke="#000" stroke-width="0.9"/>
<rect x="369.00" y="188.50" width="3.60" height="3.60" fill="#fff" stroke="#000" stroke-width="0.9"/>
<rect x="377.95" y="188.50" width="3.60" height="3.60" fill="#fff" stroke="#000" stroke-width="0.9"/>
<rect x="386.90" y="188.50" width="3.60" height="3.60" fill="#fff" stroke="#000" stroke-width="0.9"/>
<rect x="395.85" y="188.50" width="3.60" height="3.60" fill="#fff" stroke="#000" stroke-width="0.9"/>
<rect x="404.80" y="188.50" width="3.60" height="3.60" fill="#fff" stroke="#000" stroke-width="0.9"/>
<rect x="413.75" y="201.81" width="3.60" height="3.60" fill="#fff" stroke="#000" stroke-width="0.9"/>
<rect x="422.70" y="201.81" width="3.60" height="3.60" fill="#fff" stroke="#000" stroke-width="0.9"/>
<rect x="431.65" y="201.81" width="3.60" height="3.60" fill="#fff" stroke="#000" stroke-width="0.9"/>
<rect x="440.60" y="201.81" width="3.60" height="3.60" fill="#fff" stroke="#000" stroke-width="0.9"/>
<rect x="449.55" y="201.81" width="3.60" height="3.60" fill="#fff" stroke="#000" stroke-width="0.9"/>
<rect x="458.50" y="201.81" width="3.60" height="3.60" fill="#fff" stroke="#000" stroke-width="0.9"/>
<rect x="467.45" y="201.81" width="3.60" height="3.60" fill="#fff" stroke="#000" stroke-width="0.9"/>
<rect x="476.40" y="201.81" width="3.60" height="3.60" fill="#fff" stroke="#000" stroke-width="0.9"/>
<rect x="485.35" y="201.81" width="3.60" height="3.60" fill="#fff" stroke="#000" stroke-width="0.9"/>
<rect x="494.30" y="201.81" width="3.60" height="3.60" fill="#fff" stroke="#000" stroke-width="0.9"/>
<rect x="503.25" y="201.81" width="3.60" height="3.60" fill="#fff" stroke="#000" stroke-width="0.9"/>
<polyline points="335.00,190.30 343.95,190.30 352.90,190.30 361.85,190.30 370.80,190.30 379.75,190.30 388.70,190.30 397.65,190.30 406.60,203.61 415.55,243.46 424.50,243.46 433.45,243.46 442.40,243.46 451.35,243.46 460.30,243.46 469.25,243.46 478.20,243.46 487.15,243.46 496.10,243.46 505.05,243.46" fill="none" stroke="#000" stroke-width="1.5" stroke-linejoin="round"/>
<rect x="333.00" y="188.30" width="4.00" height="4.00" fill="#000" stroke="#000" stroke-width="0.8"/>
<rect x="341.95" y="188.30" width="4.00" height="4.00" fill="#000" stroke="#000" stroke-width="0.8"/>
<rect x="350.90" y="188.30" width="4.00" height="4.00" fill="#000" stroke="#000" stroke-width="0.8"/>
<rect x="359.85" y="188.30" width="4.00" height="4.00" fill="#000" stroke="#000" stroke-width="0.8"/>
<rect x="368.80" y="188.30" width="4.00" height="4.00" fill="#000" stroke="#000" stroke-width="0.8"/>
<rect x="377.75" y="188.30" width="4.00" height="4.00" fill="#000" stroke="#000" stroke-width="0.8"/>
<rect x="386.70" y="188.30" width="4.00" height="4.00" fill="#000" stroke="#000" stroke-width="0.8"/>
<rect x="395.65" y="188.30" width="4.00" height="4.00" fill="#000" stroke="#000" stroke-width="0.8"/>
<rect x="404.60" y="201.61" width="4.00" height="4.00" fill="#000" stroke="#000" stroke-width="0.8"/>
<rect x="413.55" y="241.46" width="4.00" height="4.00" fill="#000" stroke="#000" stroke-width="0.8"/>
<rect x="422.50" y="241.46" width="4.00" height="4.00" fill="#000" stroke="#000" stroke-width="0.8"/>
<rect x="431.45" y="241.46" width="4.00" height="4.00" fill="#000" stroke="#000" stroke-width="0.8"/>
<rect x="440.40" y="241.46" width="4.00" height="4.00" fill="#000" stroke="#000" stroke-width="0.8"/>
<rect x="449.35" y="241.46" width="4.00" height="4.00" fill="#000" stroke="#000" stroke-width="0.8"/>
<rect x="458.30" y="241.46" width="4.00" height="4.00" fill="#000" stroke="#000" stroke-width="0.8"/>
<rect x="467.25" y="241.46" width="4.00" height="4.00" fill="#000" stroke="#000" stroke-width="0.8"/>
<rect x="476.20" y="241.46" width="4.00" height="4.00" fill="#000" stroke="#000" stroke-width="0.8"/>
<rect x="485.15" y="241.46" width="4.00" height="4.00" fill="#000" stroke="#000" stroke-width="0.8"/>
<rect x="494.10" y="241.46" width="4.00" height="4.00" fill="#000" stroke="#000" stroke-width="0.8"/>
<rect x="503.05" y="241.46" width="4.00" height="4.00" fill="#000" stroke="#000" stroke-width="0.8"/>
<text x="423.75" y="194.50" font-size="9.8" text-anchor="start" fill="#111" stroke="#111" stroke-width="0.12"><tspan font-style="italic">TN-C</tspan><tspan dy="-3.4" font-size="5.6">+/+</tspan><tspan dy="3.4"> recipients</tspan></text>
<text x="423.75" y="236.00" font-size="9.8" text-anchor="start" fill="#111" stroke="#111" stroke-width="0.12"><tspan font-style="italic">TN-C</tspan><tspan dy="-3.4" font-size="5.6">-/-</tspan><tspan dy="3.4">&#160; recipients</tspan></text>
<text x="392.00" y="258.00" font-size="9.4" text-anchor="start" fill="#111" stroke="#111" stroke-width="0.12">p=0.014</text>
<text x="21.50" y="331.50" font-size="19" text-anchor="start" font-weight="bold" fill="#000" stroke="#000" stroke-width="0.12">F</text>
<text x="163.75" y="333.50" font-size="9.55" text-anchor="middle" font-style="italic" fill="#111" stroke="#111" stroke-width="0.12">No. of cells per 5X10<tspan dy="-3.2" font-size="6.0">6</tspan><tspan dy="3.2"> BMMNCs</tspan></text>
<line x1="51.00" y1="340.00" x2="262.00" y2="340.00" stroke="#000" stroke-width="2.0" stroke-linecap="butt"/>
<text x="94.50" y="353.00" font-size="9.8" text-anchor="middle" font-style="italic" fill="#111" stroke="#111" stroke-width="0.12">Flt3<tspan dy="-3.4" font-size="5.6">-</tspan><tspan dy="3.4">CD34</tspan><tspan dy="-3.4" font-size="5.6">-</tspan><tspan dy="3.4">LSK</tspan></text>
<text x="221.00" y="353.00" font-size="9.8" text-anchor="middle" font-style="italic" fill="#111" stroke="#111" stroke-width="0.12">CD48<tspan dy="-3.4" font-size="5.6">-</tspan><tspan dy="3.4">CD41</tspan><tspan dy="-3.4" font-size="5.6">-</tspan><tspan dy="3.4">CD150</tspan><tspan dy="-3.4" font-size="5.6">+</tspan><tspan dy="3.4">LSK</tspan></text>
<text x="49.50" y="365.15" font-size="9.4" text-anchor="end" fill="#111" stroke="#111" stroke-width="0.12">80</text>
<text x="49.50" y="382.90" font-size="9.4" text-anchor="end" fill="#111" stroke="#111" stroke-width="0.12">60</text>
<text x="49.50" y="400.40" font-size="9.4" text-anchor="end" fill="#111" stroke="#111" stroke-width="0.12">40</text>
<text x="49.50" y="418.40" font-size="9.4" text-anchor="end" fill="#111" stroke="#111" stroke-width="0.12">20</text>
<text x="49.50" y="435.90" font-size="9.4" text-anchor="end" fill="#111" stroke="#111" stroke-width="0.12">0</text>
<line x1="77.25" y1="382.50" x2="77.25" y2="386.75" stroke="#000" stroke-width="1.0" stroke-linecap="butt"/>
<line x1="75.00" y1="382.50" x2="79.50" y2="382.50" stroke="#000" stroke-width="1.0" stroke-linecap="butt"/>
<rect x="64.00" y="386.75" width="26.50" height="45.75" fill="#fff" stroke="#000" stroke-width="1.1"/>
<line x1="116.88" y1="375.50" x2="116.88" y2="381.00" stroke="#000" stroke-width="1.0" stroke-linecap="butt"/>
<line x1="114.62" y1="375.50" x2="119.12" y2="375.50" stroke="#000" stroke-width="1.0" stroke-linecap="butt"/>
<rect x="103.75" y="381.00" width="26.25" height="51.50" fill="#000" stroke="#000" stroke-width="1.1"/>
<rect x="57.50" y="361.75" width="78.50" height="70.75" fill="none" stroke="#000" stroke-width="1.6"/>
<text x="117.00" y="372.50" font-size="10.2" text-anchor="middle" fill="#111" stroke="#111" stroke-width="0.12">NS</text>
<text x="78.00" y="445.50" font-size="9.6" text-anchor="middle" font-style="italic" fill="#111" stroke="#111" stroke-width="0.12">TN-C<tspan dy="-2.6" font-size="6.4">+/+</tspan><tspan dy="2.6"></tspan></text>
<text x="116.00" y="445.50" font-size="9.6" text-anchor="middle" font-style="italic" fill="#111" stroke="#111" stroke-width="0.12">TN-C<tspan dy="-2.6" font-size="6.4">-/-</tspan><tspan dy="2.6"></tspan></text>
<text x="178.00" y="364.40" font-size="9.4" text-anchor="end" fill="#111" stroke="#111" stroke-width="0.12">15</text>
<text x="178.00" y="388.40" font-size="9.4" text-anchor="end" fill="#111" stroke="#111" stroke-width="0.12">10</text>
<text x="178.00" y="411.90" font-size="9.4" text-anchor="end" fill="#111" stroke="#111" stroke-width="0.12">5</text>
<text x="178.00" y="435.40" font-size="9.4" text-anchor="end" fill="#111" stroke="#111" stroke-width="0.12">0</text>
<line x1="205.25" y1="391.00" x2="205.25" y2="405.00" stroke="#000" stroke-width="1.0" stroke-linecap="butt"/>
<line x1="203.00" y1="391.00" x2="207.50" y2="391.00" stroke="#000" stroke-width="1.0" stroke-linecap="butt"/>
<rect x="193.00" y="405.00" width="24.50" height="27.00" fill="#000" stroke="#000" stroke-width="1.1"/>
<line x1="241.75" y1="379.50" x2="241.75" y2="398.00" stroke="#000" stroke-width="1.0" stroke-linecap="butt"/>
<line x1="239.50" y1="379.50" x2="244.00" y2="379.50" stroke="#000" stroke-width="1.0" stroke-linecap="butt"/>
<rect x="229.50" y="398.00" width="24.50" height="34.00" fill="#fff" stroke="#000" stroke-width="1.1"/>
<rect x="187.00" y="361.00" width="72.00" height="71.00" fill="none" stroke="#000" stroke-width="1.6"/>
<text x="241.00" y="372.50" font-size="10.2" text-anchor="middle" fill="#111" stroke="#111" stroke-width="0.12">NS</text>
<text x="206.00" y="445.50" font-size="9.6" text-anchor="middle" font-style="italic" fill="#111" stroke="#111" stroke-width="0.12">TN-C<tspan dy="-2.6" font-size="6.4">+/+</tspan><tspan dy="2.6"></tspan></text>
<text x="243.75" y="445.50" font-size="9.6" text-anchor="middle" font-style="italic" fill="#111" stroke="#111" stroke-width="0.12">TN-C<tspan dy="-2.6" font-size="6.4">-/-</tspan><tspan dy="2.6"></tspan></text>
<text x="19.00" y="465.50" font-size="19" text-anchor="start" font-weight="bold" fill="#000" stroke="#000" stroke-width="0.12">G</text>
<text x="159.00" y="465.20" font-size="9.8" text-anchor="middle" font-style="italic" fill="#111" stroke="#111" stroke-width="0.12">% Ly5.1 cells</text>
<line x1="50.00" y1="469.50" x2="262.00" y2="469.50" stroke="#000" stroke-width="2.0" stroke-linecap="butt"/>
<text x="94.50" y="481.80" font-size="9.8" text-anchor="middle" font-style="italic" fill="#111" stroke="#111" stroke-width="0.12">Flt3<tspan dy="-3.4" font-size="5.6">-</tspan><tspan dy="3.4">CD34</tspan><tspan dy="-3.4" font-size="5.6">-</tspan><tspan dy="3.4">LSK</tspan></text>
<text x="221.00" y="481.80" font-size="9.8" text-anchor="middle" font-style="italic" fill="#111" stroke="#111" stroke-width="0.12">CD48<tspan dy="-3.4" font-size="5.6">-</tspan><tspan dy="3.4">CD41</tspan><tspan dy="-3.4" font-size="5.6">-</tspan><tspan dy="3.4">CD150</tspan><tspan dy="-3.4" font-size="5.6">+</tspan><tspan dy="3.4">LSK</tspan></text>
<text x="54.00" y="494.40" font-size="9.4" text-anchor="end" fill="#111" stroke="#111" stroke-width="0.12">120</text>
<text x="54.00" y="517.90" font-size="9.4" text-anchor="end" fill="#111" stroke="#111" stroke-width="0.12">80</text>
<text x="54.00" y="541.40" font-size="9.4" text-anchor="end" fill="#111" stroke="#111" stroke-width="0.12">40</text>
<text x="54.00" y="565.15" font-size="9.4" text-anchor="end" fill="#111" stroke="#111" stroke-width="0.12">0</text>
<line x1="80.25" y1="502.50" x2="80.25" y2="510.75" stroke="#000" stroke-width="1.0" stroke-linecap="butt"/>
<line x1="78.00" y1="502.50" x2="82.50" y2="502.50" stroke="#000" stroke-width="1.0" stroke-linecap="butt"/>
<rect x="67.50" y="510.75" width="25.50" height="51.00" fill="#fff" stroke="#000" stroke-width="1.1"/>
<line x1="116.88" y1="502.50" x2="116.88" y2="514.00" stroke="#000" stroke-width="1.0" stroke-linecap="butt"/>
<line x1="114.62" y1="502.50" x2="119.12" y2="502.50" stroke="#000" stroke-width="1.0" stroke-linecap="butt"/>
<rect x="103.75" y="514.00" width="26.25" height="47.75" fill="#000" stroke="#000" stroke-width="1.1"/>
<rect x="62.50" y="491.00" width="72.00" height="70.75" fill="none" stroke="#000" stroke-width="1.6"/>
<text x="115.50" y="500.00" font-size="10.2" text-anchor="middle" fill="#111" stroke="#111" stroke-width="0.12">NS</text>
<text x="82.50" y="577.80" font-size="9.6" text-anchor="middle" font-style="italic" fill="#111" stroke="#111" stroke-width="0.12">TN-C<tspan dy="-2.6" font-size="6.4">+/+</tspan><tspan dy="2.6"></tspan></text>
<text x="119.00" y="577.80" font-size="9.6" text-anchor="middle" font-style="italic" fill="#111" stroke="#111" stroke-width="0.12">TN-C<tspan dy="-2.6" font-size="6.4">-/-</tspan><tspan dy="2.6"></tspan></text>
<text x="178.00" y="493.40" font-size="9.4" text-anchor="end" fill="#111" stroke="#111" stroke-width="0.12">60</text>
<text x="178.00" y="517.15" font-size="9.4" text-anchor="end" fill="#111" stroke="#111" stroke-width="0.12">40</text>
<text x="178.00" y="540.90" font-size="9.4" text-anchor="end" fill="#111" stroke="#111" stroke-width="0.12">20</text>
<text x="178.00" y="565.15" font-size="9.4" text-anchor="end" fill="#111" stroke="#111" stroke-width="0.12">0</text>
<line x1="204.62" y1="497.50" x2="204.62" y2="501.75" stroke="#000" stroke-width="1.0" stroke-linecap="butt"/>
<line x1="202.38" y1="497.50" x2="206.88" y2="497.50" stroke="#000" stroke-width="1.0" stroke-linecap="butt"/>
<rect x="192.50" y="501.75" width="24.25" height="60.00" fill="#fff" stroke="#000" stroke-width="1.1"/>
<line x1="241.00" y1="503.00" x2="241.00" y2="507.50" stroke="#000" stroke-width="1.0" stroke-linecap="butt"/>
<line x1="238.75" y1="503.00" x2="243.25" y2="503.00" stroke="#000" stroke-width="1.0" stroke-linecap="butt"/>
<rect x="228.75" y="507.50" width="24.50" height="54.25" fill="#000" stroke="#000" stroke-width="1.1"/>
<rect x="187.00" y="490.00" width="72.00" height="71.75" fill="none" stroke="#000" stroke-width="1.6"/>
<text x="241.00" y="500.00" font-size="10.2" text-anchor="middle" fill="#111" stroke="#111" stroke-width="0.12">NS</text>
<text x="206.00" y="577.80" font-size="9.6" text-anchor="middle" font-style="italic" fill="#111" stroke="#111" stroke-width="0.12">TN-C<tspan dy="-2.6" font-size="6.4">+/+</tspan><tspan dy="2.6"></tspan></text>
<text x="243.00" y="577.80" font-size="9.6" text-anchor="middle" font-style="italic" fill="#111" stroke="#111" stroke-width="0.12">TN-C<tspan dy="-2.6" font-size="6.4">-/-</tspan><tspan dy="2.6"></tspan></text>
<text x="5.00" y="595.50" font-size="19" text-anchor="start" font-weight="bold" fill="#000" stroke="#000" stroke-width="0.12">H</text>
<text x="82.30" y="603.70" font-size="10.1" text-anchor="middle" font-style="italic" fill="#111" stroke="#111" stroke-width="0.12">%BM Lineage frequency</text>
<text x="17.00" y="611.65" font-size="9.4" text-anchor="end" fill="#111" stroke="#111" stroke-width="0.12">80</text>
<text x="17.00" y="633.40" font-size="9.4" text-anchor="end" fill="#111" stroke="#111" stroke-width="0.12">60</text>
<text x="17.00" y="655.15" font-size="9.4" text-anchor="end" fill="#111" stroke="#111" stroke-width="0.12">40</text>
<text x="17.00" y="676.90" font-size="9.4" text-anchor="end" fill="#111" stroke="#111" stroke-width="0.12">20</text>
<text x="17.00" y="698.40" font-size="9.4" text-anchor="end" fill="#111" stroke="#111" stroke-width="0.12">0</text>
<line x1="38.88" y1="645.50" x2="38.88" y2="652.50" stroke="#000" stroke-width="1.0" stroke-linecap="butt"/>
<line x1="36.62" y1="645.50" x2="41.12" y2="645.50" stroke="#000" stroke-width="1.0" stroke-linecap="butt"/>
<rect x="33.25" y="652.50" width="11.25" height="42.50" fill="#fff" stroke="#000" stroke-width="1.1"/>
<line x1="50.00" y1="654.50" x2="50.00" y2="655.75" stroke="#000" stroke-width="1.0" stroke-linecap="butt"/>
<line x1="47.75" y1="654.50" x2="52.25" y2="654.50" stroke="#000" stroke-width="1.0" stroke-linecap="butt"/>
<rect x="44.50" y="655.75" width="11.00" height="39.25" fill="#000" stroke="#000" stroke-width="1.1"/>
<line x1="78.12" y1="631.00" x2="78.12" y2="632.50" stroke="#000" stroke-width="1.0" stroke-linecap="butt"/>
<line x1="75.88" y1="631.00" x2="80.38" y2="631.00" stroke="#000" stroke-width="1.0" stroke-linecap="butt"/>
<rect x="72.50" y="632.50" width="11.25" height="62.50" fill="#fff" stroke="#000" stroke-width="1.1"/>
<line x1="89.38" y1="626.75" x2="89.38" y2="630.50" stroke="#000" stroke-width="1.0" stroke-linecap="butt"/>
<line x1="87.12" y1="626.75" x2="91.62" y2="626.75" stroke="#000" stroke-width="1.0" stroke-linecap="butt"/>
<rect x="83.75" y="630.50" width="11.25" height="64.50" fill="#000" stroke="#000" stroke-width="1.1"/>
<line x1="117.38" y1="689.00" x2="117.38" y2="692.50" stroke="#000" stroke-width="1.0" stroke-linecap="butt"/>
<line x1="115.12" y1="689.00" x2="119.62" y2="689.00" stroke="#000" stroke-width="1.0" stroke-linecap="butt"/>
<rect x="111.75" y="692.50" width="11.25" height="2.50" fill="#999" stroke="#000" stroke-width="1.1"/>
<line x1="128.75" y1="686.50" x2="128.75" y2="691.75" stroke="#000" stroke-width="1.0" stroke-linecap="butt"/>
<line x1="126.50" y1="686.50" x2="131.00" y2="686.50" stroke="#000" stroke-width="1.0" stroke-linecap="butt"/>
<rect x="123.00" y="691.75" width="11.50" height="3.25" fill="#000" stroke="#000" stroke-width="1.1"/>
<rect x="25.00" y="608.25" width="117.50" height="86.75" fill="none" stroke="#000" stroke-width="1.6"/>
<text x="45.80" y="705.00" font-size="9.4" text-anchor="middle" fill="#111" stroke="#111" stroke-width="0.12">B220</text>
<text x="83.75" y="705.00" font-size="9.4" text-anchor="middle" fill="#111" stroke="#111" stroke-width="0.12">Mac-1/</text>
<text x="82.80" y="716.00" font-size="9.4" text-anchor="middle" fill="#111" stroke="#111" stroke-width="0.12">Gr-1</text>
<text x="124.50" y="705.00" font-size="9.6" text-anchor="middle" fill="#111" stroke="#111" stroke-width="0.12">CD4/8</text>
<rect x="98.65" y="615.65" width="5.20" height="5.20" fill="#fff" stroke="#000" stroke-width="1.0"/>
<text x="106.00" y="620.30" font-size="9.8" text-anchor="start" font-style="italic" fill="#111" stroke="#111" stroke-width="0.12">TN-C<tspan dy="-3.4" font-size="5.6">+/+</tspan><tspan dy="3.4"></tspan></text>
<rect x="98.65" y="628.65" width="5.20" height="5.20" fill="#000" stroke="#000" stroke-width="1.0"/>
<text x="107.70" y="635.60" font-size="9.8" text-anchor="start" font-style="italic" fill="#111" stroke="#111" stroke-width="0.12">TN-C<tspan dy="-3.4" font-size="5.6">-/-</tspan><tspan dy="3.4"></tspan></text>
<text x="148.40" y="595.50" font-size="19" text-anchor="start" font-weight="bold" fill="#000" stroke="#000" stroke-width="0.12">I</text>
<text x="229.50" y="603.70" font-size="9.8" text-anchor="middle" font-style="italic" fill="#111" stroke="#111" stroke-width="0.12">% Ly5.1 cells</text>
<text x="165.00" y="613.40" font-size="9.4" text-anchor="end" fill="#111" stroke="#111" stroke-width="0.12">120</text>
<text x="165.00" y="642.65" font-size="9.4" text-anchor="end" fill="#111" stroke="#111" stroke-width="0.12">80</text>
<text x="165.00" y="670.90" font-size="9.4" text-anchor="end" fill="#111" stroke="#111" stroke-width="0.12">40</text>
<text x="165.00" y="699.65" font-size="9.4" text-anchor="end" fill="#111" stroke="#111" stroke-width="0.12">0</text>
<rect x="181.25" y="643.75" width="11.25" height="52.50" fill="#fff" stroke="#000" stroke-width="1.1"/>
<rect x="192.50" y="644.25" width="11.75" height="52.00" fill="#000" stroke="#000" stroke-width="1.1"/>
<rect x="220.50" y="632.50" width="11.25" height="63.75" fill="#fff" stroke="#000" stroke-width="1.1"/>
<rect x="231.75" y="626.75" width="11.25" height="69.50" fill="#000" stroke="#000" stroke-width="1.1"/>
<rect x="259.50" y="646.50" width="11.25" height="49.75" fill="#fff" stroke="#000" stroke-width="1.1"/>
<rect x="270.75" y="647.50" width="11.75" height="48.75" fill="#000" stroke="#000" stroke-width="1.1"/>
<rect x="173.00" y="610.00" width="116.50" height="86.25" fill="none" stroke="#000" stroke-width="1.6"/>
<text x="193.30" y="705.00" font-size="9.4" text-anchor="middle" fill="#111" stroke="#111" stroke-width="0.12">B220</text>
<text x="231.25" y="705.00" font-size="9.4" text-anchor="middle" fill="#111" stroke="#111" stroke-width="0.12">Mac-1/</text>
<text x="231.25" y="716.00" font-size="9.4" text-anchor="middle" fill="#111" stroke="#111" stroke-width="0.12">Gr-1</text>
<text x="271.50" y="705.00" font-size="9.6" text-anchor="middle" fill="#111" stroke="#111" stroke-width="0.12">CD4/8</text>
<rect x="247.90" y="614.90" width="5.20" height="5.20" fill="#fff" stroke="#000" stroke-width="1.0"/>
<text x="255.80" y="620.30" font-size="9.8" text-anchor="start" font-style="italic" fill="#111" stroke="#111" stroke-width="0.12">TN-C<tspan dy="-3.4" font-size="5.6">+/+</tspan><tspan dy="3.4"></tspan></text>
<rect x="247.80" y="627.90" width="5.40" height="5.40" fill="#000" stroke="#000" stroke-width="1.0"/>
<text x="258.00" y="635.30" font-size="9.8" text-anchor="start" font-style="italic" fill="#111" stroke="#111" stroke-width="0.12">TN-C<tspan dy="-3.4" font-size="5.6">-/-</tspan><tspan dy="3.4"></tspan></text>
<text x="295.00" y="332.50" font-size="19" text-anchor="start" font-weight="bold" fill="#000" stroke="#000" stroke-width="0.12">K</text>
<text x="418.50" y="326.00" font-size="9.8" text-anchor="middle" font-style="italic" font-weight="bold" fill="#111" stroke="#111" stroke-width="0.12">WBC (10<tspan dy="-3.4" font-size="5.6">3</tspan><tspan dy="3.4">/&#181;l)</tspan></text>
<text x="325.20" y="332.20" font-size="9.4" text-anchor="end" fill="#111" stroke="#111" stroke-width="0.12">25</text>
<text x="325.20" y="348.45" font-size="9.4" text-anchor="end" fill="#111" stroke="#111" stroke-width="0.12">20</text>
<text x="325.20" y="364.70" font-size="9.4" text-anchor="end" fill="#111" stroke="#111" stroke-width="0.12">15</text>
<text x="325.20" y="381.20" font-size="9.4" text-anchor="end" fill="#111" stroke="#111" stroke-width="0.12">10</text>
<text x="325.20" y="397.20" font-size="9.4" text-anchor="end" fill="#111" stroke="#111" stroke-width="0.12">5</text>
<text x="325.20" y="413.20" font-size="9.4" text-anchor="end" fill="#111" stroke="#111" stroke-width="0.12">0</text>
<line x1="333.00" y1="329.50" x2="333.00" y2="411.20" stroke="#000" stroke-width="1.5" stroke-linecap="butt"/>
<line x1="332.30" y1="410.50" x2="511.75" y2="410.50" stroke="#000" stroke-width="1.5" stroke-linecap="butt"/>
<line x1="333.00" y1="329.50" x2="336.00" y2="329.50" stroke="#000" stroke-width="1.0" stroke-linecap="butt"/>
<line x1="333.00" y1="345.75" x2="336.00" y2="345.75" stroke="#000" stroke-width="1.0" stroke-linecap="butt"/>
<line x1="333.00" y1="362.00" x2="336.00" y2="362.00" stroke="#000" stroke-width="1.0" stroke-linecap="butt"/>
<line x1="333.00" y1="378.50" x2="336.00" y2="378.50" stroke="#000" stroke-width="1.0" stroke-linecap="butt"/>
<line x1="333.00" y1="394.50" x2="336.00" y2="394.50" stroke="#000" stroke-width="1.0" stroke-linecap="butt"/>
<line x1="333.00" y1="410.50" x2="336.00" y2="410.50" stroke="#000" stroke-width="1.0" stroke-linecap="butt"/>
<line x1="358.50" y1="407.80" x2="358.50" y2="411.50" stroke="#000" stroke-width="1.0" stroke-linecap="butt"/>
<line x1="384.00" y1="407.80" x2="384.00" y2="411.50" stroke="#000" stroke-width="1.0" stroke-linecap="butt"/>
<line x1="409.50" y1="407.80" x2="409.50" y2="411.50" stroke="#000" stroke-width="1.0" stroke-linecap="butt"/>
<line x1="435.00" y1="407.80" x2="435.00" y2="411.50" stroke="#000" stroke-width="1.0" stroke-linecap="butt"/>
<line x1="460.50" y1="407.80" x2="460.50" y2="411.50" stroke="#000" stroke-width="1.0" stroke-linecap="butt"/>
<line x1="486.00" y1="407.80" x2="486.00" y2="411.50" stroke="#000" stroke-width="1.0" stroke-linecap="butt"/>
<line x1="511.50" y1="407.80" x2="511.50" y2="411.50" stroke="#000" stroke-width="1.0" stroke-linecap="butt"/>
<line x1="345.75" y1="366.00" x2="345.75" y2="380.00" stroke="#000" stroke-width="0.9" stroke-linecap="butt"/>
<line x1="343.75" y1="366.00" x2="347.75" y2="366.00" stroke="#000" stroke-width="0.9" stroke-linecap="butt"/>
<line x1="343.75" y1="380.00" x2="347.75" y2="380.00" stroke="#000" stroke-width="0.9" stroke-linecap="butt"/>
<line x1="422.25" y1="393.00" x2="422.25" y2="404.00" stroke="#000" stroke-width="0.9" stroke-linecap="butt"/>
<line x1="420.25" y1="393.00" x2="424.25" y2="393.00" stroke="#000" stroke-width="0.9" stroke-linecap="butt"/>
<line x1="420.25" y1="404.00" x2="424.25" y2="404.00" stroke="#000" stroke-width="0.9" stroke-linecap="butt"/>
<line x1="447.75" y1="344.50" x2="447.75" y2="361.00" stroke="#000" stroke-width="0.9" stroke-linecap="butt"/>
<line x1="445.75" y1="344.50" x2="449.75" y2="344.50" stroke="#000" stroke-width="0.9" stroke-linecap="butt"/>
<line x1="445.75" y1="361.00" x2="449.75" y2="361.00" stroke="#000" stroke-width="0.9" stroke-linecap="butt"/>
<line x1="473.25" y1="352.00" x2="473.25" y2="357.00" stroke="#000" stroke-width="0.9" stroke-linecap="butt"/>
<line x1="471.25" y1="352.00" x2="475.25" y2="352.00" stroke="#000" stroke-width="0.9" stroke-linecap="butt"/>
<line x1="471.25" y1="357.00" x2="475.25" y2="357.00" stroke="#000" stroke-width="0.9" stroke-linecap="butt"/>
<line x1="498.75" y1="359.00" x2="498.75" y2="364.50" stroke="#000" stroke-width="0.9" stroke-linecap="butt"/>
<line x1="496.75" y1="359.00" x2="500.75" y2="359.00" stroke="#000" stroke-width="0.9" stroke-linecap="butt"/>
<line x1="496.75" y1="364.50" x2="500.75" y2="364.50" stroke="#000" stroke-width="0.9" stroke-linecap="butt"/>
<line x1="345.75" y1="375.00" x2="345.75" y2="394.50" stroke="#000" stroke-width="0.9" stroke-linecap="butt"/>
<line x1="343.75" y1="375.00" x2="347.75" y2="375.00" stroke="#000" stroke-width="0.9" stroke-linecap="butt"/>
<line x1="343.75" y1="394.50" x2="347.75" y2="394.50" stroke="#000" stroke-width="0.9" stroke-linecap="butt"/>
<line x1="447.75" y1="403.00" x2="447.75" y2="410.00" stroke="#000" stroke-width="0.9" stroke-linecap="butt"/>
<line x1="445.75" y1="403.00" x2="449.75" y2="403.00" stroke="#000" stroke-width="0.9" stroke-linecap="butt"/>
<line x1="445.75" y1="410.00" x2="449.75" y2="410.00" stroke="#000" stroke-width="0.9" stroke-linecap="butt"/>
<line x1="473.25" y1="385.75" x2="473.25" y2="405.50" stroke="#000" stroke-width="0.9" stroke-linecap="butt"/>
<line x1="471.25" y1="385.75" x2="475.25" y2="385.75" stroke="#000" stroke-width="0.9" stroke-linecap="butt"/>
<line x1="471.25" y1="405.50" x2="475.25" y2="405.50" stroke="#000" stroke-width="0.9" stroke-linecap="butt"/>
<polyline points="345.75,382.50 371.25,388.00 396.75,408.00 422.25,407.00 447.75,406.75 473.25,395.50 498.75,366.25" fill="none" stroke="#000" stroke-width="1.15" stroke-linejoin="round"/>
<polyline points="345.75,373.75 371.25,388.00 396.75,408.00 422.25,398.75 447.75,353.00 473.25,354.50 498.75,361.75" fill="none" stroke="#000" stroke-width="1.15" stroke-linejoin="round"/>
<rect x="343.50" y="380.25" width="4.50" height="4.50" fill="#000" stroke="#000" stroke-width="1.0"/>
<rect x="369.00" y="385.75" width="4.50" height="4.50" fill="#000" stroke="#000" stroke-width="1.0"/>
<rect x="394.50" y="405.75" width="4.50" height="4.50" fill="#000" stroke="#000" stroke-width="1.0"/>
<rect x="420.00" y="404.75" width="4.50" height="4.50" fill="#000" stroke="#000" stroke-width="1.0"/>
<rect x="445.50" y="404.50" width="4.50" height="4.50" fill="#000" stroke="#000" stroke-width="1.0"/>
<rect x="471.00" y="393.25" width="4.50" height="4.50" fill="#000" stroke="#000" stroke-width="1.0"/>
<rect x="496.50" y="364.00" width="4.50" height="4.50" fill="#000" stroke="#000" stroke-width="1.0"/>
<rect x="343.25" y="371.25" width="5.00" height="5.00" fill="#fff" stroke="#000" stroke-width="1.0"/>
<rect x="368.75" y="385.50" width="5.00" height="5.00" fill="#fff" stroke="#000" stroke-width="1.0"/>
<rect x="394.25" y="405.50" width="5.00" height="5.00" fill="#fff" stroke="#000" stroke-width="1.0"/>
<rect x="419.75" y="396.25" width="5.00" height="5.00" fill="#fff" stroke="#000" stroke-width="1.0"/>
<rect x="445.25" y="350.50" width="5.00" height="5.00" fill="#fff" stroke="#000" stroke-width="1.0"/>
<rect x="470.75" y="352.00" width="5.00" height="5.00" fill="#fff" stroke="#000" stroke-width="1.0"/>
<rect x="496.25" y="359.25" width="5.00" height="5.00" fill="#fff" stroke="#000" stroke-width="1.0"/>
<text x="431.00" y="410.00" font-size="17" text-anchor="middle" fill="#111" stroke="#111" stroke-width="0.12">*</text>
<text x="452.50" y="403.00" font-size="17" text-anchor="middle" fill="#111" stroke="#111" stroke-width="0.12">*</text>
<text x="481.75" y="408.00" font-size="17" text-anchor="middle" fill="#111" stroke="#111" stroke-width="0.12">*</text>
<rect x="341.65" y="340.65" width="5.20" height="5.20" fill="#fff" stroke="#000" stroke-width="1.0"/>
<text x="349.25" y="346.25" font-size="9.8" text-anchor="start" font-style="italic" fill="#111" stroke="#111" stroke-width="0.12">TN-C<tspan dy="-3.4" font-size="5.6">+/+</tspan><tspan dy="3.4"></tspan></text>
<rect x="341.95" y="353.95" width="4.60" height="4.60" fill="#000" stroke="#000" stroke-width="1.0"/>
<text x="351.25" y="359.75" font-size="9.8" text-anchor="start" font-style="italic" fill="#111" stroke="#111" stroke-width="0.12">TN-C<tspan dy="-3.4" font-size="5.6">-/-</tspan><tspan dy="3.4"></tspan></text>
<text x="346.55" y="423.75" font-size="9.4" text-anchor="middle" fill="#111" stroke="#111" stroke-width="0.12">0</text>
<text x="372.05" y="423.75" font-size="9.4" text-anchor="middle" fill="#111" stroke="#111" stroke-width="0.12">3</text>
<text x="397.55" y="423.75" font-size="9.4" text-anchor="middle" fill="#111" stroke="#111" stroke-width="0.12">6</text>
<text x="423.05" y="423.75" font-size="9.4" text-anchor="middle" fill="#111" stroke="#111" stroke-width="0.12">9</text>
<text x="448.55" y="423.75" font-size="9.4" text-anchor="middle" fill="#111" stroke="#111" stroke-width="0.12">12</text>
<text x="474.05" y="423.75" font-size="9.4" text-anchor="middle" fill="#111" stroke="#111" stroke-width="0.12">15</text>
<text x="499.55" y="423.75" font-size="9.4" text-anchor="middle" fill="#111" stroke="#111" stroke-width="0.12">18</text>
<text x="429.60" y="440.00" font-size="9.8" text-anchor="middle" font-style="italic" fill="#111" stroke="#111" stroke-width="0.12">Days after 5-FU administration</text>
<text x="298.00" y="470.50" font-size="19" text-anchor="start" font-weight="bold" fill="#000" stroke="#000" stroke-width="0.12">L</text>
<text x="417.75" y="465.75" font-size="9.8" text-anchor="middle" font-style="italic" font-weight="bold" fill="#111" stroke="#111" stroke-width="0.12">Hb (&#181;g/dl)</text>
<text x="325.20" y="465.95" font-size="9.4" text-anchor="end" fill="#111" stroke="#111" stroke-width="0.12">12</text>
<text x="325.20" y="493.45" font-size="9.4" text-anchor="end" fill="#111" stroke="#111" stroke-width="0.12">8</text>
<text x="325.20" y="520.70" font-size="9.4" text-anchor="end" fill="#111" stroke="#111" stroke-width="0.12">4</text>
<text x="325.20" y="547.70" font-size="9.4" text-anchor="end" fill="#111" stroke="#111" stroke-width="0.12">0</text>
<line x1="333.00" y1="463.25" x2="333.00" y2="545.70" stroke="#000" stroke-width="1.5" stroke-linecap="butt"/>
<line x1="332.30" y1="545.00" x2="511.75" y2="545.00" stroke="#000" stroke-width="1.5" stroke-linecap="butt"/>
<line x1="333.00" y1="463.25" x2="336.00" y2="463.25" stroke="#000" stroke-width="1.0" stroke-linecap="butt"/>
<line x1="333.00" y1="490.75" x2="336.00" y2="490.75" stroke="#000" stroke-width="1.0" stroke-linecap="butt"/>
<line x1="333.00" y1="518.00" x2="336.00" y2="518.00" stroke="#000" stroke-width="1.0" stroke-linecap="butt"/>
<line x1="333.00" y1="545.00" x2="336.00" y2="545.00" stroke="#000" stroke-width="1.0" stroke-linecap="butt"/>
<line x1="358.50" y1="542.30" x2="358.50" y2="546.00" stroke="#000" stroke-width="1.0" stroke-linecap="butt"/>
<line x1="384.00" y1="542.30" x2="384.00" y2="546.00" stroke="#000" stroke-width="1.0" stroke-linecap="butt"/>
<line x1="409.50" y1="542.30" x2="409.50" y2="546.00" stroke="#000" stroke-width="1.0" stroke-linecap="butt"/>
<line x1="435.00" y1="542.30" x2="435.00" y2="546.00" stroke="#000" stroke-width="1.0" stroke-linecap="butt"/>
<line x1="460.50" y1="542.30" x2="460.50" y2="546.00" stroke="#000" stroke-width="1.0" stroke-linecap="butt"/>
<line x1="486.00" y1="542.30" x2="486.00" y2="546.00" stroke="#000" stroke-width="1.0" stroke-linecap="butt"/>
<line x1="511.50" y1="542.30" x2="511.50" y2="546.00" stroke="#000" stroke-width="1.0" stroke-linecap="butt"/>
<line x1="345.75" y1="474.00" x2="345.75" y2="488.00" stroke="#000" stroke-width="0.9" stroke-linecap="butt"/>
<line x1="343.75" y1="474.00" x2="347.75" y2="474.00" stroke="#000" stroke-width="0.9" stroke-linecap="butt"/>
<line x1="343.75" y1="488.00" x2="347.75" y2="488.00" stroke="#000" stroke-width="0.9" stroke-linecap="butt"/>
<line x1="396.75" y1="496.00" x2="396.75" y2="515.00" stroke="#000" stroke-width="0.9" stroke-linecap="butt"/>
<line x1="394.75" y1="496.00" x2="398.75" y2="496.00" stroke="#000" stroke-width="0.9" stroke-linecap="butt"/>
<line x1="394.75" y1="515.00" x2="398.75" y2="515.00" stroke="#000" stroke-width="0.9" stroke-linecap="butt"/>
<line x1="422.25" y1="515.00" x2="422.25" y2="526.00" stroke="#000" stroke-width="0.9" stroke-linecap="butt"/>
<line x1="420.25" y1="515.00" x2="424.25" y2="515.00" stroke="#000" stroke-width="0.9" stroke-linecap="butt"/>
<line x1="420.25" y1="526.00" x2="424.25" y2="526.00" stroke="#000" stroke-width="0.9" stroke-linecap="butt"/>
<line x1="447.75" y1="517.00" x2="447.75" y2="528.00" stroke="#000" stroke-width="0.9" stroke-linecap="butt"/>
<line x1="445.75" y1="517.00" x2="449.75" y2="517.00" stroke="#000" stroke-width="0.9" stroke-linecap="butt"/>
<line x1="445.75" y1="528.00" x2="449.75" y2="528.00" stroke="#000" stroke-width="0.9" stroke-linecap="butt"/>
<line x1="473.25" y1="490.50" x2="473.25" y2="503.50" stroke="#000" stroke-width="0.9" stroke-linecap="butt"/>
<line x1="471.25" y1="490.50" x2="475.25" y2="490.50" stroke="#000" stroke-width="0.9" stroke-linecap="butt"/>
<line x1="471.25" y1="503.50" x2="475.25" y2="503.50" stroke="#000" stroke-width="0.9" stroke-linecap="butt"/>
<line x1="498.75" y1="493.50" x2="498.75" y2="506.50" stroke="#000" stroke-width="0.9" stroke-linecap="butt"/>
<line x1="496.75" y1="493.50" x2="500.75" y2="493.50" stroke="#000" stroke-width="0.9" stroke-linecap="butt"/>
<line x1="496.75" y1="506.50" x2="500.75" y2="506.50" stroke="#000" stroke-width="0.9" stroke-linecap="butt"/>
<line x1="345.75" y1="472.50" x2="345.75" y2="482.50" stroke="#000" stroke-width="0.9" stroke-linecap="butt"/>
<line x1="343.75" y1="472.50" x2="347.75" y2="472.50" stroke="#000" stroke-width="0.9" stroke-linecap="butt"/>
<line x1="343.75" y1="482.50" x2="347.75" y2="482.50" stroke="#000" stroke-width="0.9" stroke-linecap="butt"/>
<line x1="371.25" y1="488.50" x2="371.25" y2="500.50" stroke="#000" stroke-width="0.9" stroke-linecap="butt"/>
<line x1="369.25" y1="488.50" x2="373.25" y2="488.50" stroke="#000" stroke-width="0.9" stroke-linecap="butt"/>
<line x1="369.25" y1="500.50" x2="373.25" y2="500.50" stroke="#000" stroke-width="0.9" stroke-linecap="butt"/>
<line x1="396.75" y1="488.50" x2="396.75" y2="501.50" stroke="#000" stroke-width="0.9" stroke-linecap="butt"/>
<line x1="394.75" y1="488.50" x2="398.75" y2="488.50" stroke="#000" stroke-width="0.9" stroke-linecap="butt"/>
<line x1="394.75" y1="501.50" x2="398.75" y2="501.50" stroke="#000" stroke-width="0.9" stroke-linecap="butt"/>
<line x1="447.75" y1="524.00" x2="447.75" y2="537.00" stroke="#000" stroke-width="0.9" stroke-linecap="butt"/>
<line x1="445.75" y1="524.00" x2="449.75" y2="524.00" stroke="#000" stroke-width="0.9" stroke-linecap="butt"/>
<line x1="445.75" y1="537.00" x2="449.75" y2="537.00" stroke="#000" stroke-width="0.9" stroke-linecap="butt"/>
<line x1="498.75" y1="505.50" x2="498.75" y2="525.00" stroke="#000" stroke-width="0.9" stroke-linecap="butt"/>
<line x1="496.75" y1="505.50" x2="500.75" y2="505.50" stroke="#000" stroke-width="0.9" stroke-linecap="butt"/>
<line x1="496.75" y1="525.00" x2="500.75" y2="525.00" stroke="#000" stroke-width="0.9" stroke-linecap="butt"/>
<polyline points="345.75,477.50 371.25,494.50 396.75,495.00 422.25,520.50 447.75,528.75 473.25,526.25 498.75,515.00" fill="none" stroke="#000" stroke-width="1.15" stroke-linejoin="round"/>
<polyline points="345.75,480.00 371.25,506.25 396.75,505.50 422.25,520.50 447.75,522.50 473.25,497.00 498.75,500.00" fill="none" stroke="#000" stroke-width="1.15" stroke-linejoin="round"/>
<rect x="343.50" y="475.25" width="4.50" height="4.50" fill="#000" stroke="#000" stroke-width="1.0"/>
<rect x="369.00" y="492.25" width="4.50" height="4.50" fill="#000" stroke="#000" stroke-width="1.0"/>
<rect x="394.50" y="492.75" width="4.50" height="4.50" fill="#000" stroke="#000" stroke-width="1.0"/>
<rect x="420.00" y="518.25" width="4.50" height="4.50" fill="#000" stroke="#000" stroke-width="1.0"/>
<rect x="445.50" y="526.50" width="4.50" height="4.50" fill="#000" stroke="#000" stroke-width="1.0"/>
<rect x="471.00" y="524.00" width="4.50" height="4.50" fill="#000" stroke="#000" stroke-width="1.0"/>
<rect x="496.50" y="512.75" width="4.50" height="4.50" fill="#000" stroke="#000" stroke-width="1.0"/>
<rect x="343.25" y="477.50" width="5.00" height="5.00" fill="#fff" stroke="#000" stroke-width="1.0"/>
<rect x="368.75" y="503.75" width="5.00" height="5.00" fill="#fff" stroke="#000" stroke-width="1.0"/>
<rect x="394.25" y="503.00" width="5.00" height="5.00" fill="#fff" stroke="#000" stroke-width="1.0"/>
<rect x="419.75" y="518.00" width="5.00" height="5.00" fill="#fff" stroke="#000" stroke-width="1.0"/>
<rect x="445.25" y="520.00" width="5.00" height="5.00" fill="#fff" stroke="#000" stroke-width="1.0"/>
<rect x="470.75" y="494.50" width="5.00" height="5.00" fill="#fff" stroke="#000" stroke-width="1.0"/>
<rect x="496.25" y="497.50" width="5.00" height="5.00" fill="#fff" stroke="#000" stroke-width="1.0"/>
<text x="454.50" y="544.00" font-size="17" text-anchor="middle" fill="#111" stroke="#111" stroke-width="0.12">*</text>
<text x="479.00" y="546.50" font-size="17" text-anchor="middle" fill="#111" stroke="#111" stroke-width="0.12">*</text>
<text x="505.00" y="542.00" font-size="17" text-anchor="middle" fill="#111" stroke="#111" stroke-width="0.12">*</text>
<rect x="341.65" y="519.90" width="5.20" height="5.20" fill="#fff" stroke="#000" stroke-width="1.0"/>
<text x="349.25" y="525.50" font-size="9.8" text-anchor="start" font-style="italic" fill="#111" stroke="#111" stroke-width="0.12">TN-C<tspan dy="-3.4" font-size="5.6">+/+</tspan><tspan dy="3.4"></tspan></text>
<rect x="341.95" y="533.95" width="4.60" height="4.60" fill="#000" stroke="#000" stroke-width="1.0"/>
<text x="351.25" y="539.75" font-size="9.8" text-anchor="start" font-style="italic" fill="#111" stroke="#111" stroke-width="0.12">TN-C<tspan dy="-3.4" font-size="5.6">-/-</tspan><tspan dy="3.4"></tspan></text>
<text x="346.55" y="557.50" font-size="9.4" text-anchor="middle" fill="#111" stroke="#111" stroke-width="0.12">0</text>
<text x="372.05" y="557.50" font-size="9.4" text-anchor="middle" fill="#111" stroke="#111" stroke-width="0.12">3</text>
<text x="397.55" y="557.50" font-size="9.4" text-anchor="middle" fill="#111" stroke="#111" stroke-width="0.12">6</text>
<text x="423.05" y="557.50" font-size="9.4" text-anchor="middle" fill="#111" stroke="#111" stroke-width="0.12">9</text>
<text x="448.55" y="557.50" font-size="9.4" text-anchor="middle" fill="#111" stroke="#111" stroke-width="0.12">12</text>
<text x="474.05" y="557.50" font-size="9.4" text-anchor="middle" fill="#111" stroke="#111" stroke-width="0.12">15</text>
<text x="499.55" y="557.50" font-size="9.4" text-anchor="middle" fill="#111" stroke="#111" stroke-width="0.12">18</text>
<text x="429.60" y="571.25" font-size="9.8" text-anchor="middle" font-style="italic" fill="#111" stroke="#111" stroke-width="0.12">Days after 5-FU administration</text>
<text x="296.50" y="593.75" font-size="19" text-anchor="start" font-weight="bold" fill="#000" stroke="#000" stroke-width="0.12">M</text>
<text x="422.75" y="593.60" font-size="9.8" text-anchor="middle" font-style="italic" font-weight="bold" fill="#111" stroke="#111" stroke-width="0.12">Plt (10<tspan dy="-3.4" font-size="5.6">6</tspan><tspan dy="3.4">/&#181;l)</tspan></text>
<text x="324.00" y="591.45" font-size="9.4" text-anchor="end" fill="#111" stroke="#111" stroke-width="0.12">4</text>
<text x="324.00" y="613.20" font-size="9.4" text-anchor="end" fill="#111" stroke="#111" stroke-width="0.12">3</text>
<text x="324.00" y="635.20" font-size="9.4" text-anchor="end" fill="#111" stroke="#111" stroke-width="0.12">2</text>
<text x="324.00" y="656.95" font-size="9.4" text-anchor="end" fill="#111" stroke="#111" stroke-width="0.12">1</text>
<text x="324.00" y="678.95" font-size="9.4" text-anchor="end" fill="#111" stroke="#111" stroke-width="0.12">0</text>
<line x1="333.00" y1="588.75" x2="333.00" y2="676.95" stroke="#000" stroke-width="1.5" stroke-linecap="butt"/>
<line x1="332.30" y1="676.25" x2="511.75" y2="676.25" stroke="#000" stroke-width="1.5" stroke-linecap="butt"/>
<line x1="333.00" y1="588.75" x2="336.00" y2="588.75" stroke="#000" stroke-width="1.0" stroke-linecap="butt"/>
<line x1="333.00" y1="610.50" x2="336.00" y2="610.50" stroke="#000" stroke-width="1.0" stroke-linecap="butt"/>
<line x1="333.00" y1="632.50" x2="336.00" y2="632.50" stroke="#000" stroke-width="1.0" stroke-linecap="butt"/>
<line x1="333.00" y1="654.25" x2="336.00" y2="654.25" stroke="#000" stroke-width="1.0" stroke-linecap="butt"/>
<line x1="333.00" y1="676.25" x2="336.00" y2="676.25" stroke="#000" stroke-width="1.0" stroke-linecap="butt"/>
<line x1="358.50" y1="673.55" x2="358.50" y2="677.25" stroke="#000" stroke-width="1.0" stroke-linecap="butt"/>
<line x1="384.00" y1="673.55" x2="384.00" y2="677.25" stroke="#000" stroke-width="1.0" stroke-linecap="butt"/>
<line x1="409.50" y1="673.55" x2="409.50" y2="677.25" stroke="#000" stroke-width="1.0" stroke-linecap="butt"/>
<line x1="435.00" y1="673.55" x2="435.00" y2="677.25" stroke="#000" stroke-width="1.0" stroke-linecap="butt"/>
<line x1="460.50" y1="673.55" x2="460.50" y2="677.25" stroke="#000" stroke-width="1.0" stroke-linecap="butt"/>
<line x1="486.00" y1="673.55" x2="486.00" y2="677.25" stroke="#000" stroke-width="1.0" stroke-linecap="butt"/>
<line x1="511.50" y1="673.55" x2="511.50" y2="677.25" stroke="#000" stroke-width="1.0" stroke-linecap="butt"/>
<line x1="345.75" y1="653.00" x2="345.75" y2="666.00" stroke="#000" stroke-width="0.9" stroke-linecap="butt"/>
<line x1="343.75" y1="653.00" x2="347.75" y2="653.00" stroke="#000" stroke-width="0.9" stroke-linecap="butt"/>
<line x1="343.75" y1="666.00" x2="347.75" y2="666.00" stroke="#000" stroke-width="0.9" stroke-linecap="butt"/>
<line x1="371.25" y1="657.00" x2="371.25" y2="667.00" stroke="#000" stroke-width="0.9" stroke-linecap="butt"/>
<line x1="369.25" y1="657.00" x2="373.25" y2="657.00" stroke="#000" stroke-width="0.9" stroke-linecap="butt"/>
<line x1="369.25" y1="667.00" x2="373.25" y2="667.00" stroke="#000" stroke-width="0.9" stroke-linecap="butt"/>
<line x1="422.25" y1="640.00" x2="422.25" y2="661.00" stroke="#000" stroke-width="0.9" stroke-linecap="butt"/>
<line x1="420.25" y1="640.00" x2="424.25" y2="640.00" stroke="#000" stroke-width="0.9" stroke-linecap="butt"/>
<line x1="420.25" y1="661.00" x2="424.25" y2="661.00" stroke="#000" stroke-width="0.9" stroke-linecap="butt"/>
<line x1="447.75" y1="630.50" x2="447.75" y2="640.50" stroke="#000" stroke-width="0.9" stroke-linecap="butt"/>
<line x1="445.75" y1="630.50" x2="449.75" y2="630.50" stroke="#000" stroke-width="0.9" stroke-linecap="butt"/>
<line x1="445.75" y1="640.50" x2="449.75" y2="640.50" stroke="#000" stroke-width="0.9" stroke-linecap="butt"/>
<line x1="498.75" y1="635.50" x2="498.75" y2="647.50" stroke="#000" stroke-width="0.9" stroke-linecap="butt"/>
<line x1="496.75" y1="635.50" x2="500.75" y2="635.50" stroke="#000" stroke-width="0.9" stroke-linecap="butt"/>
<line x1="496.75" y1="647.50" x2="500.75" y2="647.50" stroke="#000" stroke-width="0.9" stroke-linecap="butt"/>
<line x1="371.25" y1="655.50" x2="371.25" y2="664.50" stroke="#000" stroke-width="0.9" stroke-linecap="butt"/>
<line x1="369.25" y1="655.50" x2="373.25" y2="655.50" stroke="#000" stroke-width="0.9" stroke-linecap="butt"/>
<line x1="369.25" y1="664.50" x2="373.25" y2="664.50" stroke="#000" stroke-width="0.9" stroke-linecap="butt"/>
<line x1="422.25" y1="668.50" x2="422.25" y2="675.50" stroke="#000" stroke-width="0.9" stroke-linecap="butt"/>
<line x1="420.25" y1="668.50" x2="424.25" y2="668.50" stroke="#000" stroke-width="0.9" stroke-linecap="butt"/>
<line x1="420.25" y1="675.50" x2="424.25" y2="675.50" stroke="#000" stroke-width="0.9" stroke-linecap="butt"/>
<polyline points="345.75,660.00 371.25,660.00 396.75,670.00 422.25,672.00 447.75,651.25 473.25,647.50 498.75,630.75" fill="none" stroke="#000" stroke-width="1.15" stroke-linejoin="round"/>
<polyline points="345.75,660.00 371.25,662.00 396.75,670.00 422.25,650.50 447.75,635.00 473.25,613.00 498.75,641.25" fill="none" stroke="#000" stroke-width="1.15" stroke-linejoin="round"/>
<rect x="343.50" y="657.75" width="4.50" height="4.50" fill="#000" stroke="#000" stroke-width="1.0"/>
<rect x="369.00" y="657.75" width="4.50" height="4.50" fill="#000" stroke="#000" stroke-width="1.0"/>
<rect x="394.50" y="667.75" width="4.50" height="4.50" fill="#000" stroke="#000" stroke-width="1.0"/>
<rect x="420.00" y="669.75" width="4.50" height="4.50" fill="#000" stroke="#000" stroke-width="1.0"/>
<rect x="445.50" y="649.00" width="4.50" height="4.50" fill="#000" stroke="#000" stroke-width="1.0"/>
<rect x="471.00" y="645.25" width="4.50" height="4.50" fill="#000" stroke="#000" stroke-width="1.0"/>
<rect x="496.50" y="628.50" width="4.50" height="4.50" fill="#000" stroke="#000" stroke-width="1.0"/>
<rect x="343.25" y="657.50" width="5.00" height="5.00" fill="#fff" stroke="#000" stroke-width="1.0"/>
<rect x="368.75" y="659.50" width="5.00" height="5.00" fill="#fff" stroke="#000" stroke-width="1.0"/>
<rect x="394.25" y="667.50" width="5.00" height="5.00" fill="#fff" stroke="#000" stroke-width="1.0"/>
<rect x="419.75" y="648.00" width="5.00" height="5.00" fill="#fff" stroke="#000" stroke-width="1.0"/>
<rect x="445.25" y="632.50" width="5.00" height="5.00" fill="#fff" stroke="#000" stroke-width="1.0"/>
<rect x="470.75" y="610.50" width="5.00" height="5.00" fill="#fff" stroke="#000" stroke-width="1.0"/>
<rect x="496.25" y="638.75" width="5.00" height="5.00" fill="#fff" stroke="#000" stroke-width="1.0"/>
<text x="433.75" y="677.00" font-size="17" text-anchor="middle" fill="#111" stroke="#111" stroke-width="0.12">*</text>
<text x="452.00" y="669.00" font-size="17" text-anchor="middle" fill="#111" stroke="#111" stroke-width="0.12">*</text>
<text x="479.00" y="667.00" font-size="17" text-anchor="middle" fill="#111" stroke="#111" stroke-width="0.12">*</text>
<rect x="342.40" y="612.40" width="5.20" height="5.20" fill="#fff" stroke="#000" stroke-width="1.0"/>
<text x="350.00" y="618.00" font-size="9.8" text-anchor="start" font-style="italic" fill="#111" stroke="#111" stroke-width="0.12">TN-C<tspan dy="-3.4" font-size="5.6">+/+</tspan><tspan dy="3.4"></tspan></text>
<rect x="342.70" y="626.45" width="4.60" height="4.60" fill="#000" stroke="#000" stroke-width="1.0"/>
<text x="352.00" y="632.25" font-size="9.8" text-anchor="start" font-style="italic" fill="#111" stroke="#111" stroke-width="0.12">TN-C<tspan dy="-3.4" font-size="5.6">-/-</tspan><tspan dy="3.4"></tspan></text>
<text x="346.55" y="687.50" font-size="9.4" text-anchor="middle" fill="#111" stroke="#111" stroke-width="0.12">0</text>
<text x="372.05" y="687.50" font-size="9.4" text-anchor="middle" fill="#111" stroke="#111" stroke-width="0.12">3</text>
<text x="397.55" y="687.50" font-size="9.4" text-anchor="middle" fill="#111" stroke="#111" stroke-width="0.12">6</text>
<text x="423.05" y="687.50" font-size="9.4" text-anchor="middle" fill="#111" stroke="#111" stroke-width="0.12">9</text>
<text x="448.55" y="687.50" font-size="9.4" text-anchor="middle" fill="#111" stroke="#111" stroke-width="0.12">12</text>
<text x="474.05" y="687.50" font-size="9.4" text-anchor="middle" fill="#111" stroke="#111" stroke-width="0.12">15</text>
<text x="499.55" y="687.50" font-size="9.4" text-anchor="middle" fill="#111" stroke="#111" stroke-width="0.12">18</text>
<text x="429.60" y="699.50" font-size="9.8" text-anchor="middle" font-style="italic" fill="#111" stroke="#111" stroke-width="0.12">Days after 5-FU administration</text>
</svg>
</body></html>
